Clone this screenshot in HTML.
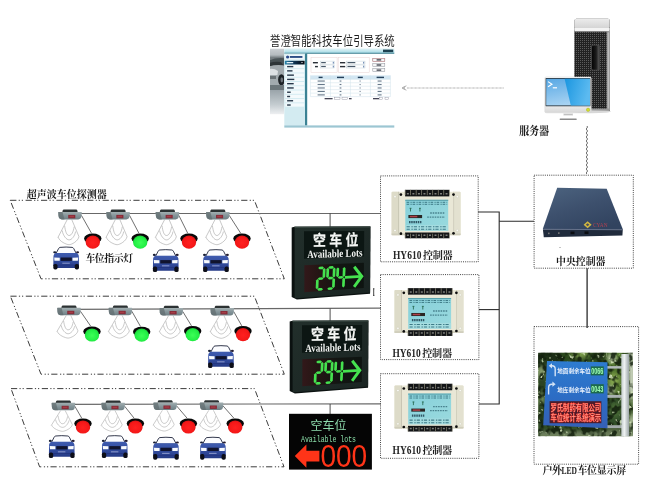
<!DOCTYPE html>
<html><head><meta charset="utf-8"><title>Parking guidance system</title>
<style>html,body{margin:0;padding:0;background:#fff;}svg{display:block;font-family:"Liberation Sans",sans-serif;}</style>
</head><body>
<svg width="650" height="482" viewBox="0 0 650 482">
<defs>

<linearGradient id="detg" x1="0" y1="0" x2="0" y2="1"><stop offset="0" stop-color="#a2afb1"/><stop offset="0.5" stop-color="#85959a"/><stop offset="1" stop-color="#6f8085"/></linearGradient>
<radialGradient id="lgr" cx="0.5" cy="0.55" r="0.6"><stop offset="0" stop-color="#ff2020"/><stop offset="0.7" stop-color="#f41818"/><stop offset="1" stop-color="#c80f12"/></radialGradient>
<radialGradient id="lgg" cx="0.5" cy="0.55" r="0.6"><stop offset="0" stop-color="#3cff58"/><stop offset="0.7" stop-color="#22ee44"/><stop offset="1" stop-color="#12b832"/></radialGradient>
<linearGradient id="carg" x1="0" y1="0" x2="0" y2="1"><stop offset="0" stop-color="#3f5cb0"/><stop offset="0.5" stop-color="#324c9e"/><stop offset="1" stop-color="#253a86"/></linearGradient>
<linearGradient id="sgnf" x1="0" y1="0" x2="1" y2="1"><stop offset="0" stop-color="#222f2b"/><stop offset="1" stop-color="#1a2422"/></linearGradient>
<linearGradient id="sgnl" x1="0" y1="0" x2="1" y2="0"><stop offset="0" stop-color="#32181a"/><stop offset="0.25" stop-color="#241614"/><stop offset="0.6" stop-color="#121512"/><stop offset="1" stop-color="#0e1411"/></linearGradient>
<filter id="glow" x="-10%" y="-10%" width="120%" height="120%"><feGaussianBlur stdDeviation="0.35"/></filter>
<filter id="blur05" x="-20%" y="-20%" width="140%" height="140%"><feGaussianBlur stdDeviation="0.45"/></filter>
<filter id="blur1" x="-20%" y="-20%" width="140%" height="140%"><feGaussianBlur stdDeviation="0.8"/></filter>
<filter id="blur2" x="-20%" y="-20%" width="140%" height="140%"><feGaussianBlur stdDeviation="2.2"/></filter>
<linearGradient id="ctlb" x1="0" y1="0" x2="1" y2="0"><stop offset="0" stop-color="#d9d6c6"/><stop offset="0.2" stop-color="#ebe8da"/><stop offset="1" stop-color="#efede2"/></linearGradient>
<linearGradient id="ctll" x1="0" y1="0" x2="1" y2="1"><stop offset="0" stop-color="#86d0da"/><stop offset="1" stop-color="#9adade"/></linearGradient>
<linearGradient id="ccg" x1="0.1" y1="0" x2="0.7" y2="1"><stop offset="0" stop-color="#4b627e"/><stop offset="0.5" stop-color="#3d506d"/><stop offset="1" stop-color="#31435f"/></linearGradient>
<linearGradient id="bsg" x1="0" y1="0" x2="0" y2="1"><stop offset="0" stop-color="#2e7cd0"/><stop offset="0.55" stop-color="#2c6cc4"/><stop offset="1" stop-color="#3560b6"/></linearGradient>
<linearGradient id="poleg" x1="0" y1="0" x2="1" y2="0"><stop offset="0" stop-color="#c4cccc"/><stop offset="0.4" stop-color="#eef2f2"/><stop offset="1" stop-color="#9aa4a6"/></linearGradient>
<filter id="foliage" x="0" y="0" width="100%" height="100%" color-interpolation-filters="sRGB"><feTurbulence type="fractalNoise" baseFrequency="0.17 0.15" numOctaves="2" seed="7"/><feColorMatrix type="matrix" values="0 0 0 0 0.07  0 0 0 0 0.12  0 0 0 0 0.05  5 0 0 0 -2.2"/></filter><filter id="foliage2" x="0" y="0" width="100%" height="100%" color-interpolation-filters="sRGB"><feTurbulence type="fractalNoise" baseFrequency="0.22 0.2" numOctaves="2" seed="23"/><feColorMatrix type="matrix" values="0 0 0 0 0.88  0 0 0 0 0.94  0 0 0 0 0.78  0 7 0 0 -4.55"/></filter>
<clipPath id="photoclip"><rect x="538.2" y="352.7" width="94.7" height="83.5"/></clipPath>
<pattern id="mesh" width="2" height="2" patternUnits="userSpaceOnUse"><rect width="2" height="2" fill="#222222"/><rect x="0" y="0" width="1" height="1" fill="#5c5c5c"/></pattern>
<linearGradient id="capg" x1="0" y1="0" x2="0" y2="1"><stop offset="0" stop-color="#ececec"/><stop offset="1" stop-color="#d4d4d4"/></linearGradient>
<linearGradient id="tedge" x1="0" y1="0" x2="1" y2="0"><stop offset="0" stop-color="#8c8c8c"/><stop offset="1" stop-color="#d8d8d8"/></linearGradient>
<linearGradient id="hndl" x1="0" y1="0" x2="1" y2="0"><stop offset="0" stop-color="#050505"/><stop offset="0.6" stop-color="#1c1c1c"/><stop offset="1" stop-color="#555"/></linearGradient>
<linearGradient id="bezg" x1="0" y1="0" x2="0" y2="1"><stop offset="0" stop-color="#fafafa"/><stop offset="0.8" stop-color="#ececec"/><stop offset="1" stop-color="#d6d6d6"/></linearGradient>
<linearGradient id="scrL" x1="0" y1="0" x2="0.3" y2="1"><stop offset="0" stop-color="#58a8e4"/><stop offset="1" stop-color="#a6d2f2"/></linearGradient>
<linearGradient id="scrR" x1="0" y1="0" x2="1" y2="0.3"><stop offset="0" stop-color="#1a96e0"/><stop offset="1" stop-color="#5cbaf0"/></linearGradient>
<linearGradient id="backg" x1="0" y1="0" x2="0" y2="1"><stop offset="0" stop-color="#ccd0d4"/><stop offset="0.1" stop-color="#b4babe"/><stop offset="0.14" stop-color="#747c80"/><stop offset="0.5" stop-color="#7a8488"/><stop offset="0.62" stop-color="#98a2a8"/><stop offset="0.85" stop-color="#c4ccd0"/><stop offset="1" stop-color="#eef0f2"/></linearGradient>
<linearGradient id="topbar" x1="0" y1="0" x2="0" y2="1"><stop offset="0" stop-color="#e4f5f8"/><stop offset="1" stop-color="#a6dae4"/></linearGradient>
<linearGradient id="selg" x1="0" y1="0" x2="1" y2="0"><stop offset="0" stop-color="#2a8ab0"/><stop offset="0.35" stop-color="#0f3e62"/><stop offset="1" stop-color="#04060c"/></linearGradient>
<clipPath id="backclip"><rect x="270" y="48.4" width="14.4" height="66"/></clipPath>

</defs>
<rect width="650" height="482" fill="#ffffff"/>
<g opacity="0.999">
<polygon points="10.20,200.30 254.40,200.30 284.30,278.80 41.00,278.80" fill="none" stroke="#3c3c3c" stroke-width="1.0" stroke-dasharray="6.2 2.3 1.2 1.9 1.2 2.6"/>
<polygon points="10.40,296.20 254.40,296.20 284.30,374.20 41.00,374.20" fill="none" stroke="#3c3c3c" stroke-width="1.0" stroke-dasharray="6.2 2.3 1.2 1.9 1.2 2.6"/>
<polygon points="11.00,388.60 254.50,388.60 284.00,466.80 39.60,466.80" fill="none" stroke="#3c3c3c" stroke-width="1.0" stroke-dasharray="6.2 2.3 1.2 1.9 1.2 2.6"/>
<line x1="70.00" y1="213.50" x2="381.00" y2="213.50" stroke="#686868" stroke-width="1.2"/>
<line x1="69.00" y1="309.30" x2="381.00" y2="308.10" stroke="#686868" stroke-width="1.2"/>
<line x1="63.00" y1="404.40" x2="381.00" y2="403.80" stroke="#686868" stroke-width="1.2"/>
<g fill="none" stroke="#a2a2a2" stroke-width="0.6" transform="translate(0 0.000) scale(1 1.000)">
<path d="M67.20 219.70 L57.80 237.70 M71.80 219.70 L79.00 236.70"/>
<path d="M64.60 225.70 C65.40 231.09 66.50 235.50 69.10 235.50 C71.70 235.50 73.40 231.54 74.20 226.70"/>
<path d="M62.20 230.50 C63.00 235.67 66.50 239.90 69.10 239.90 C71.70 239.90 74.80 236.12 75.60 231.50"/>
<path d="M58.40 237.30 C59.20 241.37 66.50 244.70 69.10 244.70 C71.70 244.70 78.10 241.10 78.90 236.70"/>
</g>
<line x1="81.40" y1="215.30" x2="91.60" y2="233.40" stroke="#4a4a4a" stroke-width="0.8"/>
<g transform="translate(58.20 209.60) scale(0.9833 0.9800)">
<path d="M5.4 0 H18.6 Q19.6 0 19.8 2.6 H4.2 Q4.4 0 5.4 0Z" fill="#2c3233"/>
<path d="M0.5 2.4 H23.5 Q24 2.4 24 3 L23.7 6.6 Q23.2 10 20.4 10 H3.6 Q0.8 10 0.3 6.6 L0 3 Q0 2.4 0.5 2.4Z" fill="url(#detg)"/>
<path d="M0.5 2.4 H4.4 L6.4 10 H3.6 Q0.8 10 0.3 6.6 L0 3 Q0 2.4 0.5 2.4Z" fill="#5f6b6e" opacity="0.7"/>
<rect x="10.2" y="5.4" width="7.2" height="3.5" fill="#862c38"/>
<rect x="11.4" y="6.3" width="4.6" height="1.5" fill="#a63c46"/>
</g>
<ellipse cx="92.80" cy="238.60" rx="8.7" ry="5.0" fill="#080808"/>
<ellipse cx="92.80" cy="242.10" rx="7.2" ry="6.6" fill="url(#lgr)"/>
<g fill="none" stroke="#a2a2a2" stroke-width="0.6" transform="translate(0 0.000) scale(1 1.000)">
<path d="M115.30 219.70 L105.90 237.70 M119.90 219.70 L127.10 236.70"/>
<path d="M112.70 225.70 C113.50 231.09 114.60 235.50 117.20 235.50 C119.80 235.50 121.50 231.54 122.30 226.70"/>
<path d="M110.30 230.50 C111.10 235.67 114.60 239.90 117.20 239.90 C119.80 239.90 122.90 236.12 123.70 231.50"/>
<path d="M106.50 237.30 C107.30 241.37 114.60 244.70 117.20 244.70 C119.80 244.70 126.20 241.10 127.00 236.70"/>
</g>
<line x1="129.50" y1="215.30" x2="139.00" y2="233.40" stroke="#4a4a4a" stroke-width="0.8"/>
<g transform="translate(106.30 209.60) scale(0.9833 0.9800)">
<path d="M5.4 0 H18.6 Q19.6 0 19.8 2.6 H4.2 Q4.4 0 5.4 0Z" fill="#2c3233"/>
<path d="M0.5 2.4 H23.5 Q24 2.4 24 3 L23.7 6.6 Q23.2 10 20.4 10 H3.6 Q0.8 10 0.3 6.6 L0 3 Q0 2.4 0.5 2.4Z" fill="url(#detg)"/>
<path d="M0.5 2.4 H4.4 L6.4 10 H3.6 Q0.8 10 0.3 6.6 L0 3 Q0 2.4 0.5 2.4Z" fill="#5f6b6e" opacity="0.7"/>
<rect x="10.2" y="5.4" width="7.2" height="3.5" fill="#862c38"/>
<rect x="11.4" y="6.3" width="4.6" height="1.5" fill="#a63c46"/>
</g>
<ellipse cx="140.20" cy="238.60" rx="8.7" ry="5.0" fill="#080808"/>
<ellipse cx="140.20" cy="242.10" rx="7.2" ry="6.6" fill="url(#lgg)"/>
<g fill="none" stroke="#a2a2a2" stroke-width="0.6" transform="translate(0 0.000) scale(1 1.000)">
<path d="M164.60 219.70 L155.20 237.70 M169.20 219.70 L176.40 236.70"/>
<path d="M162.00 225.70 C162.80 231.09 163.90 235.50 166.50 235.50 C169.10 235.50 170.80 231.54 171.60 226.70"/>
<path d="M159.60 230.50 C160.40 235.67 163.90 239.90 166.50 239.90 C169.10 239.90 172.20 236.12 173.00 231.50"/>
<path d="M155.80 237.30 C156.60 241.37 163.90 244.70 166.50 244.70 C169.10 244.70 175.50 241.10 176.30 236.70"/>
</g>
<line x1="178.80" y1="215.30" x2="187.80" y2="233.40" stroke="#4a4a4a" stroke-width="0.8"/>
<g transform="translate(155.60 209.60) scale(0.9833 0.9800)">
<path d="M5.4 0 H18.6 Q19.6 0 19.8 2.6 H4.2 Q4.4 0 5.4 0Z" fill="#2c3233"/>
<path d="M0.5 2.4 H23.5 Q24 2.4 24 3 L23.7 6.6 Q23.2 10 20.4 10 H3.6 Q0.8 10 0.3 6.6 L0 3 Q0 2.4 0.5 2.4Z" fill="url(#detg)"/>
<path d="M0.5 2.4 H4.4 L6.4 10 H3.6 Q0.8 10 0.3 6.6 L0 3 Q0 2.4 0.5 2.4Z" fill="#5f6b6e" opacity="0.7"/>
<rect x="10.2" y="5.4" width="7.2" height="3.5" fill="#862c38"/>
<rect x="11.4" y="6.3" width="4.6" height="1.5" fill="#a63c46"/>
</g>
<ellipse cx="189.00" cy="238.60" rx="8.7" ry="5.0" fill="#080808"/>
<ellipse cx="189.00" cy="242.10" rx="7.2" ry="6.6" fill="url(#lgr)"/>
<g fill="none" stroke="#a2a2a2" stroke-width="0.6" transform="translate(0 0.000) scale(1 1.000)">
<path d="M215.00 219.70 L205.60 237.70 M219.60 219.70 L226.80 236.70"/>
<path d="M212.40 225.70 C213.20 231.09 214.30 235.50 216.90 235.50 C219.50 235.50 221.20 231.54 222.00 226.70"/>
<path d="M210.00 230.50 C210.80 235.67 214.30 239.90 216.90 239.90 C219.50 239.90 222.60 236.12 223.40 231.50"/>
<path d="M206.20 237.30 C207.00 241.37 214.30 244.70 216.90 244.70 C219.50 244.70 225.90 241.10 226.70 236.70"/>
</g>
<line x1="229.20" y1="215.30" x2="240.80" y2="233.40" stroke="#4a4a4a" stroke-width="0.8"/>
<g transform="translate(206.00 209.60) scale(0.9833 0.9800)">
<path d="M5.4 0 H18.6 Q19.6 0 19.8 2.6 H4.2 Q4.4 0 5.4 0Z" fill="#2c3233"/>
<path d="M0.5 2.4 H23.5 Q24 2.4 24 3 L23.7 6.6 Q23.2 10 20.4 10 H3.6 Q0.8 10 0.3 6.6 L0 3 Q0 2.4 0.5 2.4Z" fill="url(#detg)"/>
<path d="M0.5 2.4 H4.4 L6.4 10 H3.6 Q0.8 10 0.3 6.6 L0 3 Q0 2.4 0.5 2.4Z" fill="#5f6b6e" opacity="0.7"/>
<rect x="10.2" y="5.4" width="7.2" height="3.5" fill="#862c38"/>
<rect x="11.4" y="6.3" width="4.6" height="1.5" fill="#a63c46"/>
</g>
<ellipse cx="242.00" cy="238.60" rx="8.7" ry="5.0" fill="#080808"/>
<ellipse cx="242.00" cy="242.10" rx="7.2" ry="6.6" fill="url(#lgr)"/>
<g fill="none" stroke="#a2a2a2" stroke-width="0.6" transform="translate(0 31.560) scale(1 0.900)">
<path d="M66.20 315.60 L56.80 333.60 M70.80 315.60 L78.00 332.60"/>
<path d="M63.60 321.60 C64.40 326.99 65.50 331.40 68.10 331.40 C70.70 331.40 72.40 327.44 73.20 322.60"/>
<path d="M61.20 326.40 C62.00 331.57 65.50 335.80 68.10 335.80 C70.70 335.80 73.80 332.02 74.60 327.40"/>
<path d="M57.40 333.20 C58.20 337.27 65.50 340.60 68.10 340.60 C70.70 340.60 77.10 337.00 77.90 332.60"/>
</g>
<line x1="80.40" y1="311.20" x2="90.80" y2="326.30" stroke="#4a4a4a" stroke-width="0.8"/>
<g transform="translate(57.20 305.50) scale(0.9833 0.9800)">
<path d="M5.4 0 H18.6 Q19.6 0 19.8 2.6 H4.2 Q4.4 0 5.4 0Z" fill="#2c3233"/>
<path d="M0.5 2.4 H23.5 Q24 2.4 24 3 L23.7 6.6 Q23.2 10 20.4 10 H3.6 Q0.8 10 0.3 6.6 L0 3 Q0 2.4 0.5 2.4Z" fill="url(#detg)"/>
<path d="M0.5 2.4 H4.4 L6.4 10 H3.6 Q0.8 10 0.3 6.6 L0 3 Q0 2.4 0.5 2.4Z" fill="#5f6b6e" opacity="0.7"/>
<rect x="10.2" y="5.4" width="7.2" height="3.5" fill="#862c38"/>
<rect x="11.4" y="6.3" width="4.6" height="1.5" fill="#a63c46"/>
</g>
<ellipse cx="92.00" cy="331.50" rx="8.7" ry="5.0" fill="#080808"/>
<ellipse cx="92.00" cy="335.00" rx="7.2" ry="6.6" fill="url(#lgg)"/>
<g fill="none" stroke="#a2a2a2" stroke-width="0.6" transform="translate(0 31.560) scale(1 0.900)">
<path d="M117.60 315.60 L108.20 333.60 M122.20 315.60 L129.40 332.60"/>
<path d="M115.00 321.60 C115.80 326.99 116.90 331.40 119.50 331.40 C122.10 331.40 123.80 327.44 124.60 322.60"/>
<path d="M112.60 326.40 C113.40 331.57 116.90 335.80 119.50 335.80 C122.10 335.80 125.20 332.02 126.00 327.40"/>
<path d="M108.80 333.20 C109.60 337.27 116.90 340.60 119.50 340.60 C122.10 340.60 128.50 337.00 129.30 332.60"/>
</g>
<line x1="131.80" y1="311.20" x2="140.50" y2="326.50" stroke="#4a4a4a" stroke-width="0.8"/>
<g transform="translate(108.60 305.50) scale(0.9833 0.9800)">
<path d="M5.4 0 H18.6 Q19.6 0 19.8 2.6 H4.2 Q4.4 0 5.4 0Z" fill="#2c3233"/>
<path d="M0.5 2.4 H23.5 Q24 2.4 24 3 L23.7 6.6 Q23.2 10 20.4 10 H3.6 Q0.8 10 0.3 6.6 L0 3 Q0 2.4 0.5 2.4Z" fill="url(#detg)"/>
<path d="M0.5 2.4 H4.4 L6.4 10 H3.6 Q0.8 10 0.3 6.6 L0 3 Q0 2.4 0.5 2.4Z" fill="#5f6b6e" opacity="0.7"/>
<rect x="10.2" y="5.4" width="7.2" height="3.5" fill="#862c38"/>
<rect x="11.4" y="6.3" width="4.6" height="1.5" fill="#a63c46"/>
</g>
<ellipse cx="141.70" cy="331.70" rx="8.7" ry="5.0" fill="#080808"/>
<ellipse cx="141.70" cy="335.20" rx="7.2" ry="6.6" fill="url(#lgg)"/>
<g fill="none" stroke="#a2a2a2" stroke-width="0.6" transform="translate(0 31.580) scale(1 0.900)">
<path d="M168.50 315.80 L159.10 333.80 M173.10 315.80 L180.30 332.80"/>
<path d="M165.90 321.80 C166.70 327.19 167.80 331.60 170.40 331.60 C173.00 331.60 174.70 327.64 175.50 322.80"/>
<path d="M163.50 326.60 C164.30 331.77 167.80 336.00 170.40 336.00 C173.00 336.00 176.10 332.22 176.90 327.60"/>
<path d="M159.70 333.40 C160.50 337.47 167.80 340.80 170.40 340.80 C173.00 340.80 179.40 337.20 180.20 332.80"/>
</g>
<line x1="182.70" y1="311.40" x2="191.50" y2="325.90" stroke="#4a4a4a" stroke-width="0.8"/>
<g transform="translate(159.50 305.70) scale(0.9833 0.9800)">
<path d="M5.4 0 H18.6 Q19.6 0 19.8 2.6 H4.2 Q4.4 0 5.4 0Z" fill="#2c3233"/>
<path d="M0.5 2.4 H23.5 Q24 2.4 24 3 L23.7 6.6 Q23.2 10 20.4 10 H3.6 Q0.8 10 0.3 6.6 L0 3 Q0 2.4 0.5 2.4Z" fill="url(#detg)"/>
<path d="M0.5 2.4 H4.4 L6.4 10 H3.6 Q0.8 10 0.3 6.6 L0 3 Q0 2.4 0.5 2.4Z" fill="#5f6b6e" opacity="0.7"/>
<rect x="10.2" y="5.4" width="7.2" height="3.5" fill="#862c38"/>
<rect x="11.4" y="6.3" width="4.6" height="1.5" fill="#a63c46"/>
</g>
<ellipse cx="192.70" cy="331.10" rx="8.7" ry="5.0" fill="#080808"/>
<ellipse cx="192.70" cy="334.60" rx="7.2" ry="6.6" fill="url(#lgg)"/>
<g fill="none" stroke="#a2a2a2" stroke-width="0.6" transform="translate(0 31.580) scale(1 0.900)">
<path d="M219.40 315.80 L210.00 333.80 M224.00 315.80 L231.20 332.80"/>
<path d="M216.80 321.80 C217.60 327.19 218.70 331.60 221.30 331.60 C223.90 331.60 225.60 327.64 226.40 322.80"/>
<path d="M214.40 326.60 C215.20 331.77 218.70 336.00 221.30 336.00 C223.90 336.00 227.00 332.22 227.80 327.60"/>
<path d="M210.60 333.40 C211.40 337.47 218.70 340.80 221.30 340.80 C223.90 340.80 230.30 337.20 231.10 332.80"/>
</g>
<line x1="233.60" y1="311.40" x2="241.80" y2="325.90" stroke="#4a4a4a" stroke-width="0.8"/>
<g transform="translate(210.40 305.70) scale(0.9833 0.9800)">
<path d="M5.4 0 H18.6 Q19.6 0 19.8 2.6 H4.2 Q4.4 0 5.4 0Z" fill="#2c3233"/>
<path d="M0.5 2.4 H23.5 Q24 2.4 24 3 L23.7 6.6 Q23.2 10 20.4 10 H3.6 Q0.8 10 0.3 6.6 L0 3 Q0 2.4 0.5 2.4Z" fill="url(#detg)"/>
<path d="M0.5 2.4 H4.4 L6.4 10 H3.6 Q0.8 10 0.3 6.6 L0 3 Q0 2.4 0.5 2.4Z" fill="#5f6b6e" opacity="0.7"/>
<rect x="10.2" y="5.4" width="7.2" height="3.5" fill="#862c38"/>
<rect x="11.4" y="6.3" width="4.6" height="1.5" fill="#a63c46"/>
</g>
<ellipse cx="243.00" cy="331.10" rx="8.7" ry="5.0" fill="#080808"/>
<ellipse cx="243.00" cy="334.60" rx="7.2" ry="6.6" fill="url(#lgr)"/>
<g fill="none" stroke="#a2a2a2" stroke-width="0.6" transform="translate(0 69.802) scale(1 0.830)">
<path d="M60.60 410.60 L51.20 428.60 M65.20 410.60 L72.40 427.60"/>
<path d="M58.00 416.60 C58.80 421.99 59.90 426.40 62.50 426.40 C65.10 426.40 66.80 422.44 67.60 417.60"/>
<path d="M55.60 421.40 C56.40 426.57 59.90 430.80 62.50 430.80 C65.10 430.80 68.20 427.02 69.00 422.40"/>
<path d="M51.80 428.20 C52.60 432.27 59.90 435.60 62.50 435.60 C65.10 435.60 71.50 432.00 72.30 427.60"/>
</g>
<line x1="74.80" y1="406.20" x2="81.80" y2="418.30" stroke="#4a4a4a" stroke-width="0.8"/>
<g transform="translate(51.60 400.50) scale(0.9833 0.9800)">
<path d="M5.4 0 H18.6 Q19.6 0 19.8 2.6 H4.2 Q4.4 0 5.4 0Z" fill="#2c3233"/>
<path d="M0.5 2.4 H23.5 Q24 2.4 24 3 L23.7 6.6 Q23.2 10 20.4 10 H3.6 Q0.8 10 0.3 6.6 L0 3 Q0 2.4 0.5 2.4Z" fill="url(#detg)"/>
<path d="M0.5 2.4 H4.4 L6.4 10 H3.6 Q0.8 10 0.3 6.6 L0 3 Q0 2.4 0.5 2.4Z" fill="#5f6b6e" opacity="0.7"/>
<rect x="10.2" y="5.4" width="7.2" height="3.5" fill="#862c38"/>
<rect x="11.4" y="6.3" width="4.6" height="1.5" fill="#a63c46"/>
</g>
<ellipse cx="83.00" cy="423.50" rx="8.7" ry="5.0" fill="#080808"/>
<ellipse cx="83.00" cy="427.00" rx="7.2" ry="6.6" fill="url(#lgr)"/>
<g fill="none" stroke="#a2a2a2" stroke-width="0.6" transform="translate(0 69.802) scale(1 0.830)">
<path d="M110.40 410.60 L101.00 428.60 M115.00 410.60 L122.20 427.60"/>
<path d="M107.80 416.60 C108.60 421.99 109.70 426.40 112.30 426.40 C114.90 426.40 116.60 422.44 117.40 417.60"/>
<path d="M105.40 421.40 C106.20 426.57 109.70 430.80 112.30 430.80 C114.90 430.80 118.00 427.02 118.80 422.40"/>
<path d="M101.60 428.20 C102.40 432.27 109.70 435.60 112.30 435.60 C114.90 435.60 121.30 432.00 122.10 427.60"/>
</g>
<line x1="124.60" y1="406.20" x2="134.20" y2="418.30" stroke="#4a4a4a" stroke-width="0.8"/>
<g transform="translate(101.40 400.50) scale(0.9833 0.9800)">
<path d="M5.4 0 H18.6 Q19.6 0 19.8 2.6 H4.2 Q4.4 0 5.4 0Z" fill="#2c3233"/>
<path d="M0.5 2.4 H23.5 Q24 2.4 24 3 L23.7 6.6 Q23.2 10 20.4 10 H3.6 Q0.8 10 0.3 6.6 L0 3 Q0 2.4 0.5 2.4Z" fill="url(#detg)"/>
<path d="M0.5 2.4 H4.4 L6.4 10 H3.6 Q0.8 10 0.3 6.6 L0 3 Q0 2.4 0.5 2.4Z" fill="#5f6b6e" opacity="0.7"/>
<rect x="10.2" y="5.4" width="7.2" height="3.5" fill="#862c38"/>
<rect x="11.4" y="6.3" width="4.6" height="1.5" fill="#a63c46"/>
</g>
<ellipse cx="135.40" cy="423.50" rx="8.7" ry="5.0" fill="#080808"/>
<ellipse cx="135.40" cy="427.00" rx="7.2" ry="6.6" fill="url(#lgr)"/>
<g fill="none" stroke="#a2a2a2" stroke-width="0.6" transform="translate(0 69.751) scale(1 0.830)">
<path d="M162.40 410.30 L153.00 428.30 M167.00 410.30 L174.20 427.30"/>
<path d="M159.80 416.30 C160.60 421.69 161.70 426.10 164.30 426.10 C166.90 426.10 168.60 422.14 169.40 417.30"/>
<path d="M157.40 421.10 C158.20 426.27 161.70 430.50 164.30 430.50 C166.90 430.50 170.00 426.72 170.80 422.10"/>
<path d="M153.60 427.90 C154.40 431.97 161.70 435.30 164.30 435.30 C166.90 435.30 173.30 431.70 174.10 427.30"/>
</g>
<line x1="176.60" y1="405.90" x2="187.20" y2="418.30" stroke="#4a4a4a" stroke-width="0.8"/>
<g transform="translate(153.40 400.20) scale(0.9833 0.9800)">
<path d="M5.4 0 H18.6 Q19.6 0 19.8 2.6 H4.2 Q4.4 0 5.4 0Z" fill="#2c3233"/>
<path d="M0.5 2.4 H23.5 Q24 2.4 24 3 L23.7 6.6 Q23.2 10 20.4 10 H3.6 Q0.8 10 0.3 6.6 L0 3 Q0 2.4 0.5 2.4Z" fill="url(#detg)"/>
<path d="M0.5 2.4 H4.4 L6.4 10 H3.6 Q0.8 10 0.3 6.6 L0 3 Q0 2.4 0.5 2.4Z" fill="#5f6b6e" opacity="0.7"/>
<rect x="10.2" y="5.4" width="7.2" height="3.5" fill="#862c38"/>
<rect x="11.4" y="6.3" width="4.6" height="1.5" fill="#a63c46"/>
</g>
<ellipse cx="188.40" cy="423.50" rx="8.7" ry="5.0" fill="#080808"/>
<ellipse cx="188.40" cy="427.00" rx="7.2" ry="6.6" fill="url(#lgr)"/>
<g fill="none" stroke="#a2a2a2" stroke-width="0.6" transform="translate(0 69.751) scale(1 0.830)">
<path d="M208.80 410.30 L199.40 428.30 M213.40 410.30 L220.60 427.30"/>
<path d="M206.20 416.30 C207.00 421.69 208.10 426.10 210.70 426.10 C213.30 426.10 215.00 422.14 215.80 417.30"/>
<path d="M203.80 421.10 C204.60 426.27 208.10 430.50 210.70 430.50 C213.30 430.50 216.40 426.72 217.20 422.10"/>
<path d="M200.00 427.90 C200.80 431.97 208.10 435.30 210.70 435.30 C213.30 435.30 219.70 431.70 220.50 427.30"/>
</g>
<line x1="223.00" y1="405.90" x2="234.00" y2="418.30" stroke="#4a4a4a" stroke-width="0.8"/>
<g transform="translate(199.80 400.20) scale(0.9833 0.9800)">
<path d="M5.4 0 H18.6 Q19.6 0 19.8 2.6 H4.2 Q4.4 0 5.4 0Z" fill="#2c3233"/>
<path d="M0.5 2.4 H23.5 Q24 2.4 24 3 L23.7 6.6 Q23.2 10 20.4 10 H3.6 Q0.8 10 0.3 6.6 L0 3 Q0 2.4 0.5 2.4Z" fill="url(#detg)"/>
<path d="M0.5 2.4 H4.4 L6.4 10 H3.6 Q0.8 10 0.3 6.6 L0 3 Q0 2.4 0.5 2.4Z" fill="#5f6b6e" opacity="0.7"/>
<rect x="10.2" y="5.4" width="7.2" height="3.5" fill="#862c38"/>
<rect x="11.4" y="6.3" width="4.6" height="1.5" fill="#a63c46"/>
</g>
<ellipse cx="235.20" cy="423.50" rx="8.7" ry="5.0" fill="#080808"/>
<ellipse cx="235.20" cy="427.00" rx="7.2" ry="6.6" fill="url(#lgr)"/>
<g transform="translate(53.00 246.80) scale(1.0115 0.9828)">
<path d="M7.0 0.6 Q13 -0.1 19.0 0.6 Q20.0 0.8 20.5 1.8 L23.2 7.2 H2.8 L5.5 1.8 Q6.0 0.8 7.0 0.6Z" fill="#fbfcff" stroke="#1c2238" stroke-width="0.9"/>
<ellipse cx="1.7" cy="5.6" rx="1.5" ry="1.1" fill="#181e34"/>
<ellipse cx="24.3" cy="5.6" rx="1.5" ry="1.1" fill="#241c30"/>
<path d="M2.8 6.4 H23.2 Q25.2 6.9 25.5 9.2 L25.7 18.4 Q25.6 19.6 24.2 19.8 L22.8 21.6 H3.2 L1.8 19.8 Q0.4 19.6 0.3 18.4 L0.5 9.2 Q0.8 6.9 2.8 6.4Z" fill="url(#carg)"/>
<path d="M1.2 10.9 L6.7 11.1 V14.2 H1.4Z" fill="#f8fafd"/>
<path d="M24.8 10.9 L19.3 11.1 V14.2 H24.6Z" fill="#f8fafd"/>
<rect x="7.6" y="10.9" width="11.0" height="3.4" fill="#11142e"/>
<rect x="0.3" y="17.4" width="4.2" height="5.7" rx="1.7" fill="#0d0e18"/>
<rect x="21.5" y="17.4" width="4.2" height="5.7" rx="1.7" fill="#0d0e18"/>
<rect x="9.2" y="16.1" width="7.4" height="1.2" fill="#8e9acc" opacity="0.85"/>
<rect x="4.4" y="18.2" width="17.2" height="0.7" fill="#1e2a70" opacity="0.7"/>
</g>
<g transform="translate(152.60 249.40) scale(1.0115 0.9828)">
<path d="M7.0 0.6 Q13 -0.1 19.0 0.6 Q20.0 0.8 20.5 1.8 L23.2 7.2 H2.8 L5.5 1.8 Q6.0 0.8 7.0 0.6Z" fill="#fbfcff" stroke="#1c2238" stroke-width="0.9"/>
<ellipse cx="1.7" cy="5.6" rx="1.5" ry="1.1" fill="#181e34"/>
<ellipse cx="24.3" cy="5.6" rx="1.5" ry="1.1" fill="#241c30"/>
<path d="M2.8 6.4 H23.2 Q25.2 6.9 25.5 9.2 L25.7 18.4 Q25.6 19.6 24.2 19.8 L22.8 21.6 H3.2 L1.8 19.8 Q0.4 19.6 0.3 18.4 L0.5 9.2 Q0.8 6.9 2.8 6.4Z" fill="url(#carg)"/>
<path d="M1.2 10.9 L6.7 11.1 V14.2 H1.4Z" fill="#f8fafd"/>
<path d="M24.8 10.9 L19.3 11.1 V14.2 H24.6Z" fill="#f8fafd"/>
<rect x="7.6" y="10.9" width="11.0" height="3.4" fill="#11142e"/>
<rect x="0.3" y="17.4" width="4.2" height="5.7" rx="1.7" fill="#0d0e18"/>
<rect x="21.5" y="17.4" width="4.2" height="5.7" rx="1.7" fill="#0d0e18"/>
<rect x="9.2" y="16.1" width="7.4" height="1.2" fill="#8e9acc" opacity="0.85"/>
<rect x="4.4" y="18.2" width="17.2" height="0.7" fill="#1e2a70" opacity="0.7"/>
</g>
<g transform="translate(202.80 249.40) scale(1.0115 0.9828)">
<path d="M7.0 0.6 Q13 -0.1 19.0 0.6 Q20.0 0.8 20.5 1.8 L23.2 7.2 H2.8 L5.5 1.8 Q6.0 0.8 7.0 0.6Z" fill="#fbfcff" stroke="#1c2238" stroke-width="0.9"/>
<ellipse cx="1.7" cy="5.6" rx="1.5" ry="1.1" fill="#181e34"/>
<ellipse cx="24.3" cy="5.6" rx="1.5" ry="1.1" fill="#241c30"/>
<path d="M2.8 6.4 H23.2 Q25.2 6.9 25.5 9.2 L25.7 18.4 Q25.6 19.6 24.2 19.8 L22.8 21.6 H3.2 L1.8 19.8 Q0.4 19.6 0.3 18.4 L0.5 9.2 Q0.8 6.9 2.8 6.4Z" fill="url(#carg)"/>
<path d="M1.2 10.9 L6.7 11.1 V14.2 H1.4Z" fill="#f8fafd"/>
<path d="M24.8 10.9 L19.3 11.1 V14.2 H24.6Z" fill="#f8fafd"/>
<rect x="7.6" y="10.9" width="11.0" height="3.4" fill="#11142e"/>
<rect x="0.3" y="17.4" width="4.2" height="5.7" rx="1.7" fill="#0d0e18"/>
<rect x="21.5" y="17.4" width="4.2" height="5.7" rx="1.7" fill="#0d0e18"/>
<rect x="9.2" y="16.1" width="7.4" height="1.2" fill="#8e9acc" opacity="0.85"/>
<rect x="4.4" y="18.2" width="17.2" height="0.7" fill="#1e2a70" opacity="0.7"/>
</g>
<g transform="translate(207.80 345.40) scale(1.0115 0.9828)">
<path d="M7.0 0.6 Q13 -0.1 19.0 0.6 Q20.0 0.8 20.5 1.8 L23.2 7.2 H2.8 L5.5 1.8 Q6.0 0.8 7.0 0.6Z" fill="#fbfcff" stroke="#1c2238" stroke-width="0.9"/>
<ellipse cx="1.7" cy="5.6" rx="1.5" ry="1.1" fill="#181e34"/>
<ellipse cx="24.3" cy="5.6" rx="1.5" ry="1.1" fill="#241c30"/>
<path d="M2.8 6.4 H23.2 Q25.2 6.9 25.5 9.2 L25.7 18.4 Q25.6 19.6 24.2 19.8 L22.8 21.6 H3.2 L1.8 19.8 Q0.4 19.6 0.3 18.4 L0.5 9.2 Q0.8 6.9 2.8 6.4Z" fill="url(#carg)"/>
<path d="M1.2 10.9 L6.7 11.1 V14.2 H1.4Z" fill="#f8fafd"/>
<path d="M24.8 10.9 L19.3 11.1 V14.2 H24.6Z" fill="#f8fafd"/>
<rect x="7.6" y="10.9" width="11.0" height="3.4" fill="#11142e"/>
<rect x="0.3" y="17.4" width="4.2" height="5.7" rx="1.7" fill="#0d0e18"/>
<rect x="21.5" y="17.4" width="4.2" height="5.7" rx="1.7" fill="#0d0e18"/>
<rect x="9.2" y="16.1" width="7.4" height="1.2" fill="#8e9acc" opacity="0.85"/>
<rect x="4.4" y="18.2" width="17.2" height="0.7" fill="#1e2a70" opacity="0.7"/>
</g>
<g transform="translate(48.60 435.40) scale(1.0115 0.9828)">
<path d="M7.0 0.6 Q13 -0.1 19.0 0.6 Q20.0 0.8 20.5 1.8 L23.2 7.2 H2.8 L5.5 1.8 Q6.0 0.8 7.0 0.6Z" fill="#fbfcff" stroke="#1c2238" stroke-width="0.9"/>
<ellipse cx="1.7" cy="5.6" rx="1.5" ry="1.1" fill="#181e34"/>
<ellipse cx="24.3" cy="5.6" rx="1.5" ry="1.1" fill="#241c30"/>
<path d="M2.8 6.4 H23.2 Q25.2 6.9 25.5 9.2 L25.7 18.4 Q25.6 19.6 24.2 19.8 L22.8 21.6 H3.2 L1.8 19.8 Q0.4 19.6 0.3 18.4 L0.5 9.2 Q0.8 6.9 2.8 6.4Z" fill="url(#carg)"/>
<path d="M1.2 10.9 L6.7 11.1 V14.2 H1.4Z" fill="#f8fafd"/>
<path d="M24.8 10.9 L19.3 11.1 V14.2 H24.6Z" fill="#f8fafd"/>
<rect x="7.6" y="10.9" width="11.0" height="3.4" fill="#11142e"/>
<rect x="0.3" y="17.4" width="4.2" height="5.7" rx="1.7" fill="#0d0e18"/>
<rect x="21.5" y="17.4" width="4.2" height="5.7" rx="1.7" fill="#0d0e18"/>
<rect x="9.2" y="16.1" width="7.4" height="1.2" fill="#8e9acc" opacity="0.85"/>
<rect x="4.4" y="18.2" width="17.2" height="0.7" fill="#1e2a70" opacity="0.7"/>
</g>
<g transform="translate(101.60 435.40) scale(1.0115 0.9828)">
<path d="M7.0 0.6 Q13 -0.1 19.0 0.6 Q20.0 0.8 20.5 1.8 L23.2 7.2 H2.8 L5.5 1.8 Q6.0 0.8 7.0 0.6Z" fill="#fbfcff" stroke="#1c2238" stroke-width="0.9"/>
<ellipse cx="1.7" cy="5.6" rx="1.5" ry="1.1" fill="#181e34"/>
<ellipse cx="24.3" cy="5.6" rx="1.5" ry="1.1" fill="#241c30"/>
<path d="M2.8 6.4 H23.2 Q25.2 6.9 25.5 9.2 L25.7 18.4 Q25.6 19.6 24.2 19.8 L22.8 21.6 H3.2 L1.8 19.8 Q0.4 19.6 0.3 18.4 L0.5 9.2 Q0.8 6.9 2.8 6.4Z" fill="url(#carg)"/>
<path d="M1.2 10.9 L6.7 11.1 V14.2 H1.4Z" fill="#f8fafd"/>
<path d="M24.8 10.9 L19.3 11.1 V14.2 H24.6Z" fill="#f8fafd"/>
<rect x="7.6" y="10.9" width="11.0" height="3.4" fill="#11142e"/>
<rect x="0.3" y="17.4" width="4.2" height="5.7" rx="1.7" fill="#0d0e18"/>
<rect x="21.5" y="17.4" width="4.2" height="5.7" rx="1.7" fill="#0d0e18"/>
<rect x="9.2" y="16.1" width="7.4" height="1.2" fill="#8e9acc" opacity="0.85"/>
<rect x="4.4" y="18.2" width="17.2" height="0.7" fill="#1e2a70" opacity="0.7"/>
</g>
<g transform="translate(152.80 437.00) scale(1.0115 0.9828)">
<path d="M7.0 0.6 Q13 -0.1 19.0 0.6 Q20.0 0.8 20.5 1.8 L23.2 7.2 H2.8 L5.5 1.8 Q6.0 0.8 7.0 0.6Z" fill="#fbfcff" stroke="#1c2238" stroke-width="0.9"/>
<ellipse cx="1.7" cy="5.6" rx="1.5" ry="1.1" fill="#181e34"/>
<ellipse cx="24.3" cy="5.6" rx="1.5" ry="1.1" fill="#241c30"/>
<path d="M2.8 6.4 H23.2 Q25.2 6.9 25.5 9.2 L25.7 18.4 Q25.6 19.6 24.2 19.8 L22.8 21.6 H3.2 L1.8 19.8 Q0.4 19.6 0.3 18.4 L0.5 9.2 Q0.8 6.9 2.8 6.4Z" fill="url(#carg)"/>
<path d="M1.2 10.9 L6.7 11.1 V14.2 H1.4Z" fill="#f8fafd"/>
<path d="M24.8 10.9 L19.3 11.1 V14.2 H24.6Z" fill="#f8fafd"/>
<rect x="7.6" y="10.9" width="11.0" height="3.4" fill="#11142e"/>
<rect x="0.3" y="17.4" width="4.2" height="5.7" rx="1.7" fill="#0d0e18"/>
<rect x="21.5" y="17.4" width="4.2" height="5.7" rx="1.7" fill="#0d0e18"/>
<rect x="9.2" y="16.1" width="7.4" height="1.2" fill="#8e9acc" opacity="0.85"/>
<rect x="4.4" y="18.2" width="17.2" height="0.7" fill="#1e2a70" opacity="0.7"/>
</g>
<g transform="translate(199.80 437.00) scale(1.0115 0.9828)">
<path d="M7.0 0.6 Q13 -0.1 19.0 0.6 Q20.0 0.8 20.5 1.8 L23.2 7.2 H2.8 L5.5 1.8 Q6.0 0.8 7.0 0.6Z" fill="#fbfcff" stroke="#1c2238" stroke-width="0.9"/>
<ellipse cx="1.7" cy="5.6" rx="1.5" ry="1.1" fill="#181e34"/>
<ellipse cx="24.3" cy="5.6" rx="1.5" ry="1.1" fill="#241c30"/>
<path d="M2.8 6.4 H23.2 Q25.2 6.9 25.5 9.2 L25.7 18.4 Q25.6 19.6 24.2 19.8 L22.8 21.6 H3.2 L1.8 19.8 Q0.4 19.6 0.3 18.4 L0.5 9.2 Q0.8 6.9 2.8 6.4Z" fill="url(#carg)"/>
<path d="M1.2 10.9 L6.7 11.1 V14.2 H1.4Z" fill="#f8fafd"/>
<path d="M24.8 10.9 L19.3 11.1 V14.2 H24.6Z" fill="#f8fafd"/>
<rect x="7.6" y="10.9" width="11.0" height="3.4" fill="#11142e"/>
<rect x="0.3" y="17.4" width="4.2" height="5.7" rx="1.7" fill="#0d0e18"/>
<rect x="21.5" y="17.4" width="4.2" height="5.7" rx="1.7" fill="#0d0e18"/>
<rect x="9.2" y="16.1" width="7.4" height="1.2" fill="#8e9acc" opacity="0.85"/>
<rect x="4.4" y="18.2" width="17.2" height="0.7" fill="#1e2a70" opacity="0.7"/>
</g>
<text x="26.7" y="198.4" font-size="10" font-weight="bold" fill="#1a1a1a" font-family='"Liberation Serif","Noto Serif CJK SC",serif'>超声波车位探测器</text>
<text x="85.4" y="262" font-size="9.9" font-weight="bold" letter-spacing="-0.4" fill="#1a1a1a" font-family='"Liberation Serif","Noto Serif CJK SC",serif'>车位指示灯</text>
<line x1="330.10" y1="213.40" x2="330.10" y2="227.00" stroke="#3a3a3a" stroke-width="0.9"/>
<g transform="translate(0.00 0.00)">
<polygon points="291.70,227.50 294.50,226.80 370.40,226.50 370.10,293.70 296.90,299.60 291.70,297.00" fill="#0b1110"/>
<polygon points="294.60,226.80 370.40,226.50 370.10,292.60 296.00,298.20 294.60,297.40" fill="url(#sgnf)"/>
<polygon points="294.60,226.80 370.40,226.50 370.40,227.60 294.60,227.90" fill="#394842"/>
<polygon points="304.00,231.33 364.17,230.88 364.00,256.45 303.97,258.65" fill="#0c1613"/>
<polygon points="304.37,265.27 363.96,262.66 363.78,287.96 304.34,292.28" fill="url(#sgnl)"/>
<g transform="translate(336 240) skewY(-0.8) translate(-336 -240)">
<text transform="translate(312.9 245.6) scale(0.84 1)" font-size="15.4" font-weight="bold" letter-spacing="4" fill="#f4f6f4" stroke="#f4f6f4" stroke-width="0.2" font-family='"Liberation Sans","Noto Sans CJK SC",sans-serif'>空车位</text>
</g>
<g transform="translate(335 254) skewY(-1.6) translate(-335 -254)"><text x="307.3" y="257.2" font-size="11" font-weight="bold" fill="#f4f6f4" textLength="55.2" lengthAdjust="spacingAndGlyphs" font-family='"Liberation Serif",serif'>Available Lots</text></g>
<g filter="url(#glow)">
<polygon points="318.19,268.03 319.59,266.65 322.68,266.50 323.97,267.75 322.57,269.13 319.48,269.28" fill="#45e250"/><polygon points="324.26,268.03 325.54,269.27 325.22,276.74 323.82,278.13 322.53,276.89 322.86,269.41" fill="#45e250"/><polygon points="317.73,278.78 319.13,277.38 322.22,277.20 323.50,278.44 322.10,279.83 319.02,280.02" fill="#45e250"/><polygon points="317.42,279.09 318.71,280.33 318.38,287.85 316.99,289.27 315.70,288.04 316.02,280.49" fill="#45e250"/><polygon points="317.27,289.54 318.67,288.12 321.75,287.91 323.04,289.13 321.64,290.54 318.56,290.76" fill="#45e250"/>
<polygon points="328.20,267.55 329.61,266.19 332.70,266.04 333.98,267.28 332.58,268.64 329.49,268.79" fill="#45e250"/><polygon points="334.27,267.55 335.55,268.78 335.22,276.17 333.82,277.54 332.53,276.32 332.87,268.91" fill="#45e250"/><polygon points="327.89,267.86 329.18,269.10 328.85,276.53 327.45,277.91 326.16,276.69 326.49,269.23" fill="#45e250"/><polygon points="327.73,278.19 329.13,276.80 332.22,276.63 333.51,277.85 332.10,279.22 329.02,279.41" fill="#45e250"/><polygon points="333.79,278.12 335.08,279.33 334.74,286.72 333.34,288.11 332.06,286.91 332.39,279.50" fill="#45e250"/><polygon points="327.26,288.83 328.66,287.43 331.75,287.22 333.03,288.42 331.63,289.82 328.55,290.04" fill="#45e250"/>
<polygon points="337.90,267.38 339.19,268.60 338.85,275.96 337.45,277.33 336.16,276.11 336.50,268.74" fill="#45e250"/><polygon points="337.74,277.60 339.14,276.23 342.22,276.05 343.51,277.25 342.10,278.62 339.02,278.81" fill="#45e250"/><polygon points="344.28,267.08 345.56,268.29 345.22,275.59 343.82,276.95 342.54,275.75 342.88,268.42" fill="#45e250"/><polygon points="343.79,277.52 345.08,278.72 344.73,286.03 343.33,287.41 342.05,286.22 342.39,278.89" fill="#45e250"/>
<polygon points="344.96,275.99 361.19,275.05 361.17,277.65 344.95,278.64" fill="#45e250"/>
<polygon points="353.07,267.64 355.35,265.66 363.66,276.20 355.22,287.74 352.96,286.03 359.78,276.43" fill="#45e250"/>
</g>
</g>
<path d="M373.7 288.6 V295.6 M373.0 288.8 H374.4 M373.0 295.4 H374.4" stroke="#333" stroke-width="0.9" fill="none"/>
<line x1="330.10" y1="308.60" x2="330.10" y2="321.00" stroke="#3a3a3a" stroke-width="0.9"/>
<g transform="translate(-2.00 94.00)">
<polygon points="291.70,227.50 294.50,226.80 370.40,226.50 370.10,293.70 296.90,299.60 291.70,297.00" fill="#0b1110"/>
<polygon points="294.60,226.80 370.40,226.50 370.10,292.60 296.00,298.20 294.60,297.40" fill="url(#sgnf)"/>
<polygon points="294.60,226.80 370.40,226.50 370.40,227.60 294.60,227.90" fill="#394842"/>
<polygon points="304.00,231.33 364.17,230.88 364.00,256.45 303.97,258.65" fill="#0c1613"/>
<polygon points="304.37,265.27 363.96,262.66 363.78,287.96 304.34,292.28" fill="url(#sgnl)"/>
<g transform="translate(336 240) skewY(-0.8) translate(-336 -240)">
<text transform="translate(312.9 245.6) scale(0.84 1)" font-size="15.4" font-weight="bold" letter-spacing="4" fill="#f4f6f4" stroke="#f4f6f4" stroke-width="0.2" font-family='"Liberation Sans","Noto Sans CJK SC",sans-serif'>空车位</text>
</g>
<g transform="translate(335 254) skewY(-1.6) translate(-335 -254)"><text x="307.3" y="257.2" font-size="11" font-weight="bold" fill="#f4f6f4" textLength="55.2" lengthAdjust="spacingAndGlyphs" font-family='"Liberation Serif",serif'>Available Lots</text></g>
<g filter="url(#glow)">
<polygon points="318.19,268.03 319.59,266.65 322.68,266.50 323.97,267.75 322.57,269.13 319.48,269.28" fill="#45e250"/><polygon points="324.26,268.03 325.54,269.27 325.22,276.74 323.82,278.13 322.53,276.89 322.86,269.41" fill="#45e250"/><polygon points="317.73,278.78 319.13,277.38 322.22,277.20 323.50,278.44 322.10,279.83 319.02,280.02" fill="#45e250"/><polygon points="317.42,279.09 318.71,280.33 318.38,287.85 316.99,289.27 315.70,288.04 316.02,280.49" fill="#45e250"/><polygon points="317.27,289.54 318.67,288.12 321.75,287.91 323.04,289.13 321.64,290.54 318.56,290.76" fill="#45e250"/>
<polygon points="328.20,267.55 329.61,266.19 332.70,266.04 333.98,267.28 332.58,268.64 329.49,268.79" fill="#45e250"/><polygon points="334.27,267.55 335.55,268.78 335.22,276.17 333.82,277.54 332.53,276.32 332.87,268.91" fill="#45e250"/><polygon points="327.89,267.86 329.18,269.10 328.85,276.53 327.45,277.91 326.16,276.69 326.49,269.23" fill="#45e250"/><polygon points="327.73,278.19 329.13,276.80 332.22,276.63 333.51,277.85 332.10,279.22 329.02,279.41" fill="#45e250"/><polygon points="333.79,278.12 335.08,279.33 334.74,286.72 333.34,288.11 332.06,286.91 332.39,279.50" fill="#45e250"/><polygon points="327.26,288.83 328.66,287.43 331.75,287.22 333.03,288.42 331.63,289.82 328.55,290.04" fill="#45e250"/>
<polygon points="337.90,267.38 339.19,268.60 338.85,275.96 337.45,277.33 336.16,276.11 336.50,268.74" fill="#45e250"/><polygon points="337.74,277.60 339.14,276.23 342.22,276.05 343.51,277.25 342.10,278.62 339.02,278.81" fill="#45e250"/><polygon points="344.28,267.08 345.56,268.29 345.22,275.59 343.82,276.95 342.54,275.75 342.88,268.42" fill="#45e250"/><polygon points="343.79,277.52 345.08,278.72 344.73,286.03 343.33,287.41 342.05,286.22 342.39,278.89" fill="#45e250"/>
<polygon points="344.96,275.99 361.19,275.05 361.17,277.65 344.95,278.64" fill="#45e250"/>
<polygon points="353.07,267.64 355.35,265.66 363.66,276.20 355.22,287.74 352.96,286.03 359.78,276.43" fill="#45e250"/>
</g>
</g>
<line x1="330.10" y1="404.00" x2="330.10" y2="414.50" stroke="#3a3a3a" stroke-width="0.9"/>
<rect x="289.00" y="413.80" width="82.90" height="55.80" fill="#050505"/>
<text x="310.6" y="430" font-size="12" fill="#8fdcae" font-family='"Liberation Sans","Noto Sans CJK SC",sans-serif'>空车位</text>
<text x="301" y="441.5" font-size="9.6" fill="#8ce0aa" textLength="55" lengthAdjust="spacingAndGlyphs" font-family='"Liberation Mono",monospace'>Available lots</text>
<path d="M294.8 456.1 L306.4 444.4 V450.7 H319.4 V461.5 H306.4 V467.8Z" fill="#ff3418"/>
<text x="320.4" y="467" font-size="32" fill="#ff3418" textLength="46.8" lengthAdjust="spacingAndGlyphs" font-family='"Liberation Sans",sans-serif'>000</text>
<rect x="380.50" y="175.90" width="97.70" height="85.90" fill="none" stroke="#444" stroke-width="1.0" stroke-dasharray="1.0 1.15"/>
<g transform="translate(391.60 191.70) scale(1.0000 1.0000)">
<rect x="0" y="0" width="69" height="43.5" rx="1.0" fill="#e9e7d6"/>
<rect x="0" y="0" width="6.8" height="43.5" rx="1.0" fill="#dddbc8"/>
<rect x="62.2" y="0" width="6.8" height="43.5" rx="1.0" fill="#e3e1d0"/>
<rect x="6.6" y="0" width="0.9" height="43.5" fill="#c4c2b0"/>
<rect x="61.6" y="0" width="0.9" height="43.5" fill="#cfcdbc"/>
<rect x="0" y="41.8" width="69" height="1.7" fill="#cfcdbb"/>
<rect x="13.5" y="-1.90" width="44.2" height="6.60" fill="#121416"/>
<rect x="13.15" y="-1.90" width="0.7" height="5.40" fill="#8d8a78"/>
<rect x="18.67" y="-1.90" width="0.7" height="5.40" fill="#8d8a78"/>
<rect x="24.20" y="-1.90" width="0.7" height="5.40" fill="#8d8a78"/>
<rect x="29.73" y="-1.90" width="0.7" height="5.40" fill="#8d8a78"/>
<rect x="35.25" y="-1.90" width="0.7" height="5.40" fill="#8d8a78"/>
<rect x="40.77" y="-1.90" width="0.7" height="5.40" fill="#8d8a78"/>
<rect x="46.30" y="-1.90" width="0.7" height="5.40" fill="#8d8a78"/>
<rect x="51.83" y="-1.90" width="0.7" height="5.40" fill="#8d8a78"/>
<rect x="57.35" y="-1.90" width="0.7" height="5.40" fill="#8d8a78"/>
<rect x="15.26" y="1.30" width="2.0" height="1.5" fill="#7d7f7c"/>
<rect x="20.79" y="1.30" width="2.0" height="1.5" fill="#7d7f7c"/>
<rect x="26.31" y="1.30" width="2.0" height="1.5" fill="#7d7f7c"/>
<rect x="31.84" y="1.30" width="2.0" height="1.5" fill="#7d7f7c"/>
<rect x="37.36" y="1.30" width="2.0" height="1.5" fill="#7d7f7c"/>
<rect x="42.89" y="1.30" width="2.0" height="1.5" fill="#7d7f7c"/>
<rect x="48.41" y="1.30" width="2.0" height="1.5" fill="#7d7f7c"/>
<rect x="53.94" y="1.30" width="2.0" height="1.5" fill="#7d7f7c"/>
<rect x="13.5" y="40.80" width="44.2" height="5.80" fill="#121416"/>
<rect x="13.15" y="42.00" width="0.7" height="4.60" fill="#8d8a78"/>
<rect x="18.67" y="42.00" width="0.7" height="4.60" fill="#8d8a78"/>
<rect x="24.20" y="42.00" width="0.7" height="4.60" fill="#8d8a78"/>
<rect x="29.73" y="42.00" width="0.7" height="4.60" fill="#8d8a78"/>
<rect x="35.25" y="42.00" width="0.7" height="4.60" fill="#8d8a78"/>
<rect x="40.77" y="42.00" width="0.7" height="4.60" fill="#8d8a78"/>
<rect x="46.30" y="42.00" width="0.7" height="4.60" fill="#8d8a78"/>
<rect x="51.83" y="42.00" width="0.7" height="4.60" fill="#8d8a78"/>
<rect x="57.35" y="42.00" width="0.7" height="4.60" fill="#8d8a78"/>
<rect x="15.26" y="42.80" width="2.0" height="1.5" fill="#7d7f7c"/>
<rect x="20.79" y="42.80" width="2.0" height="1.5" fill="#7d7f7c"/>
<rect x="26.31" y="42.80" width="2.0" height="1.5" fill="#7d7f7c"/>
<rect x="31.84" y="42.80" width="2.0" height="1.5" fill="#7d7f7c"/>
<rect x="37.36" y="42.80" width="2.0" height="1.5" fill="#7d7f7c"/>
<rect x="42.89" y="42.80" width="2.0" height="1.5" fill="#7d7f7c"/>
<rect x="48.41" y="42.80" width="2.0" height="1.5" fill="#7d7f7c"/>
<rect x="53.94" y="42.80" width="2.0" height="1.5" fill="#7d7f7c"/>
<rect x="13.7" y="8.1" width="42.9" height="31.1" fill="url(#ctll)"/>
<rect x="13.7" y="8.1" width="42.9" height="1.1" fill="#5aa2ac"/>
<rect x="13.7" y="33.4" width="42.9" height="5.8" fill="#a6dde0"/>
<path d="M15 10.6 H55.6 M15 12.6 H55.6" stroke="#3c7a86" stroke-width="1.0" stroke-dasharray="2.6 1.3 1.2 0.9"/>
<path d="M15 35.0 H55.6 M15 37.6 H55.6" stroke="#3c7a86" stroke-width="1.1" stroke-dasharray="3.2 1.6 1.4 1.0"/>
<rect x="16.8" y="23.3" width="13.7" height="3.1" fill="#2a2624"/>
<rect x="18.2" y="24.1" width="7.5" height="1.5" fill="#b04048"/>
<path d="M18.9 16.4 V19.8 M18 16.6 H19.9 M28.3 16.4 V19.8 M27.4 16.6 H29.3" stroke="#2a6e58" stroke-width="0.9"/>
<path d="M38.6 21.3 H52.9 M35.6 25.4 H53.4" stroke="#47808c" stroke-width="1.3" stroke-dasharray="1.6 0.9"/>
<path d="M17.4 30.5 H29.8" stroke="#2f5664" stroke-width="2.2" stroke-dasharray="1.5 0.7"/>
<circle cx="9.30" cy="2.90" r="1.35" fill="#0e0e0e"/>
<circle cx="61.90" cy="2.90" r="1.35" fill="#0e0e0e"/>
<circle cx="9.30" cy="42.00" r="1.35" fill="#0e0e0e"/>
<circle cx="61.90" cy="41.60" r="1.35" fill="#0e0e0e"/>
<circle cx="3.40" cy="5.00" r="1.15" fill="#fdfdf8" stroke="#c8c6b4" stroke-width="0.4"/>
<circle cx="65.70" cy="5.00" r="1.15" fill="#fdfdf8" stroke="#c8c6b4" stroke-width="0.4"/>
<circle cx="3.40" cy="38.80" r="1.15" fill="#fdfdf8" stroke="#c8c6b4" stroke-width="0.4"/>
<circle cx="65.70" cy="38.80" r="1.15" fill="#fdfdf8" stroke="#c8c6b4" stroke-width="0.4"/>
</g>
<text x="393" y="259" font-size="12.6" font-weight="bold" fill="#262626" textLength="28.4" lengthAdjust="spacingAndGlyphs" font-family='"Liberation Serif",serif'>HY610</text>
<text x="422.9" y="259.1" font-size="10.1" font-weight="bold" letter-spacing="-0.3" fill="#1e1e1e" font-family='"Liberation Serif","Noto Serif CJK SC",serif'>控制器</text>
<rect x="380.50" y="274.60" width="98.40" height="85.00" fill="none" stroke="#444" stroke-width="1.0" stroke-dasharray="1.0 1.15"/>
<g transform="translate(394.50 290.00) scale(1.0000 0.9862)">
<rect x="0" y="0" width="69" height="43.5" rx="1.0" fill="#e9e7d6"/>
<rect x="0" y="0" width="6.8" height="43.5" rx="1.0" fill="#dddbc8"/>
<rect x="62.2" y="0" width="6.8" height="43.5" rx="1.0" fill="#e3e1d0"/>
<rect x="6.6" y="0" width="0.9" height="43.5" fill="#c4c2b0"/>
<rect x="61.6" y="0" width="0.9" height="43.5" fill="#cfcdbc"/>
<rect x="0" y="41.8" width="69" height="1.7" fill="#cfcdbb"/>
<rect x="13.5" y="-1.90" width="44.2" height="6.60" fill="#121416"/>
<rect x="13.15" y="-1.90" width="0.7" height="5.40" fill="#8d8a78"/>
<rect x="18.67" y="-1.90" width="0.7" height="5.40" fill="#8d8a78"/>
<rect x="24.20" y="-1.90" width="0.7" height="5.40" fill="#8d8a78"/>
<rect x="29.73" y="-1.90" width="0.7" height="5.40" fill="#8d8a78"/>
<rect x="35.25" y="-1.90" width="0.7" height="5.40" fill="#8d8a78"/>
<rect x="40.77" y="-1.90" width="0.7" height="5.40" fill="#8d8a78"/>
<rect x="46.30" y="-1.90" width="0.7" height="5.40" fill="#8d8a78"/>
<rect x="51.83" y="-1.90" width="0.7" height="5.40" fill="#8d8a78"/>
<rect x="57.35" y="-1.90" width="0.7" height="5.40" fill="#8d8a78"/>
<rect x="15.26" y="1.30" width="2.0" height="1.5" fill="#7d7f7c"/>
<rect x="20.79" y="1.30" width="2.0" height="1.5" fill="#7d7f7c"/>
<rect x="26.31" y="1.30" width="2.0" height="1.5" fill="#7d7f7c"/>
<rect x="31.84" y="1.30" width="2.0" height="1.5" fill="#7d7f7c"/>
<rect x="37.36" y="1.30" width="2.0" height="1.5" fill="#7d7f7c"/>
<rect x="42.89" y="1.30" width="2.0" height="1.5" fill="#7d7f7c"/>
<rect x="48.41" y="1.30" width="2.0" height="1.5" fill="#7d7f7c"/>
<rect x="53.94" y="1.30" width="2.0" height="1.5" fill="#7d7f7c"/>
<rect x="13.5" y="40.80" width="44.2" height="5.80" fill="#121416"/>
<rect x="13.15" y="42.00" width="0.7" height="4.60" fill="#8d8a78"/>
<rect x="18.67" y="42.00" width="0.7" height="4.60" fill="#8d8a78"/>
<rect x="24.20" y="42.00" width="0.7" height="4.60" fill="#8d8a78"/>
<rect x="29.73" y="42.00" width="0.7" height="4.60" fill="#8d8a78"/>
<rect x="35.25" y="42.00" width="0.7" height="4.60" fill="#8d8a78"/>
<rect x="40.77" y="42.00" width="0.7" height="4.60" fill="#8d8a78"/>
<rect x="46.30" y="42.00" width="0.7" height="4.60" fill="#8d8a78"/>
<rect x="51.83" y="42.00" width="0.7" height="4.60" fill="#8d8a78"/>
<rect x="57.35" y="42.00" width="0.7" height="4.60" fill="#8d8a78"/>
<rect x="15.26" y="42.80" width="2.0" height="1.5" fill="#7d7f7c"/>
<rect x="20.79" y="42.80" width="2.0" height="1.5" fill="#7d7f7c"/>
<rect x="26.31" y="42.80" width="2.0" height="1.5" fill="#7d7f7c"/>
<rect x="31.84" y="42.80" width="2.0" height="1.5" fill="#7d7f7c"/>
<rect x="37.36" y="42.80" width="2.0" height="1.5" fill="#7d7f7c"/>
<rect x="42.89" y="42.80" width="2.0" height="1.5" fill="#7d7f7c"/>
<rect x="48.41" y="42.80" width="2.0" height="1.5" fill="#7d7f7c"/>
<rect x="53.94" y="42.80" width="2.0" height="1.5" fill="#7d7f7c"/>
<rect x="13.7" y="8.1" width="42.9" height="31.1" fill="url(#ctll)"/>
<rect x="13.7" y="8.1" width="42.9" height="1.1" fill="#5aa2ac"/>
<rect x="13.7" y="33.4" width="42.9" height="5.8" fill="#a6dde0"/>
<path d="M15 10.6 H55.6 M15 12.6 H55.6" stroke="#3c7a86" stroke-width="1.0" stroke-dasharray="2.6 1.3 1.2 0.9"/>
<path d="M15 35.0 H55.6 M15 37.6 H55.6" stroke="#3c7a86" stroke-width="1.1" stroke-dasharray="3.2 1.6 1.4 1.0"/>
<rect x="16.8" y="23.3" width="13.7" height="3.1" fill="#2a2624"/>
<rect x="18.2" y="24.1" width="7.5" height="1.5" fill="#b04048"/>
<path d="M18.9 16.4 V19.8 M18 16.6 H19.9 M28.3 16.4 V19.8 M27.4 16.6 H29.3" stroke="#2a6e58" stroke-width="0.9"/>
<path d="M38.6 21.3 H52.9 M35.6 25.4 H53.4" stroke="#47808c" stroke-width="1.3" stroke-dasharray="1.6 0.9"/>
<path d="M17.4 30.5 H29.8" stroke="#2f5664" stroke-width="2.2" stroke-dasharray="1.5 0.7"/>
<circle cx="9.30" cy="2.90" r="1.35" fill="#0e0e0e"/>
<circle cx="61.90" cy="2.90" r="1.35" fill="#0e0e0e"/>
<circle cx="9.30" cy="42.00" r="1.35" fill="#0e0e0e"/>
<circle cx="61.90" cy="41.60" r="1.35" fill="#0e0e0e"/>
<circle cx="3.40" cy="5.00" r="1.15" fill="#fdfdf8" stroke="#c8c6b4" stroke-width="0.4"/>
<circle cx="65.70" cy="5.00" r="1.15" fill="#fdfdf8" stroke="#c8c6b4" stroke-width="0.4"/>
<circle cx="3.40" cy="38.80" r="1.15" fill="#fdfdf8" stroke="#c8c6b4" stroke-width="0.4"/>
<circle cx="65.70" cy="38.80" r="1.15" fill="#fdfdf8" stroke="#c8c6b4" stroke-width="0.4"/>
</g>
<text x="392.4" y="357.2" font-size="12.6" font-weight="bold" fill="#262626" textLength="28.4" lengthAdjust="spacingAndGlyphs" font-family='"Liberation Serif",serif'>HY610</text>
<text x="422.3" y="357.3" font-size="10.1" font-weight="bold" letter-spacing="-0.3" fill="#1e1e1e" font-family='"Liberation Serif","Noto Serif CJK SC",serif'>控制器</text>
<rect x="380.50" y="373.70" width="98.40" height="84.60" fill="none" stroke="#444" stroke-width="1.0" stroke-dasharray="1.0 1.15"/>
<g transform="translate(394.50 385.60) scale(1.0000 0.9862)">
<rect x="0" y="0" width="69" height="43.5" rx="1.0" fill="#e9e7d6"/>
<rect x="0" y="0" width="6.8" height="43.5" rx="1.0" fill="#dddbc8"/>
<rect x="62.2" y="0" width="6.8" height="43.5" rx="1.0" fill="#e3e1d0"/>
<rect x="6.6" y="0" width="0.9" height="43.5" fill="#c4c2b0"/>
<rect x="61.6" y="0" width="0.9" height="43.5" fill="#cfcdbc"/>
<rect x="0" y="41.8" width="69" height="1.7" fill="#cfcdbb"/>
<rect x="13.5" y="-1.90" width="44.2" height="6.60" fill="#121416"/>
<rect x="13.15" y="-1.90" width="0.7" height="5.40" fill="#8d8a78"/>
<rect x="18.67" y="-1.90" width="0.7" height="5.40" fill="#8d8a78"/>
<rect x="24.20" y="-1.90" width="0.7" height="5.40" fill="#8d8a78"/>
<rect x="29.73" y="-1.90" width="0.7" height="5.40" fill="#8d8a78"/>
<rect x="35.25" y="-1.90" width="0.7" height="5.40" fill="#8d8a78"/>
<rect x="40.77" y="-1.90" width="0.7" height="5.40" fill="#8d8a78"/>
<rect x="46.30" y="-1.90" width="0.7" height="5.40" fill="#8d8a78"/>
<rect x="51.83" y="-1.90" width="0.7" height="5.40" fill="#8d8a78"/>
<rect x="57.35" y="-1.90" width="0.7" height="5.40" fill="#8d8a78"/>
<rect x="15.26" y="1.30" width="2.0" height="1.5" fill="#7d7f7c"/>
<rect x="20.79" y="1.30" width="2.0" height="1.5" fill="#7d7f7c"/>
<rect x="26.31" y="1.30" width="2.0" height="1.5" fill="#7d7f7c"/>
<rect x="31.84" y="1.30" width="2.0" height="1.5" fill="#7d7f7c"/>
<rect x="37.36" y="1.30" width="2.0" height="1.5" fill="#7d7f7c"/>
<rect x="42.89" y="1.30" width="2.0" height="1.5" fill="#7d7f7c"/>
<rect x="48.41" y="1.30" width="2.0" height="1.5" fill="#7d7f7c"/>
<rect x="53.94" y="1.30" width="2.0" height="1.5" fill="#7d7f7c"/>
<rect x="13.5" y="40.80" width="44.2" height="5.80" fill="#121416"/>
<rect x="13.15" y="42.00" width="0.7" height="4.60" fill="#8d8a78"/>
<rect x="18.67" y="42.00" width="0.7" height="4.60" fill="#8d8a78"/>
<rect x="24.20" y="42.00" width="0.7" height="4.60" fill="#8d8a78"/>
<rect x="29.73" y="42.00" width="0.7" height="4.60" fill="#8d8a78"/>
<rect x="35.25" y="42.00" width="0.7" height="4.60" fill="#8d8a78"/>
<rect x="40.77" y="42.00" width="0.7" height="4.60" fill="#8d8a78"/>
<rect x="46.30" y="42.00" width="0.7" height="4.60" fill="#8d8a78"/>
<rect x="51.83" y="42.00" width="0.7" height="4.60" fill="#8d8a78"/>
<rect x="57.35" y="42.00" width="0.7" height="4.60" fill="#8d8a78"/>
<rect x="15.26" y="42.80" width="2.0" height="1.5" fill="#7d7f7c"/>
<rect x="20.79" y="42.80" width="2.0" height="1.5" fill="#7d7f7c"/>
<rect x="26.31" y="42.80" width="2.0" height="1.5" fill="#7d7f7c"/>
<rect x="31.84" y="42.80" width="2.0" height="1.5" fill="#7d7f7c"/>
<rect x="37.36" y="42.80" width="2.0" height="1.5" fill="#7d7f7c"/>
<rect x="42.89" y="42.80" width="2.0" height="1.5" fill="#7d7f7c"/>
<rect x="48.41" y="42.80" width="2.0" height="1.5" fill="#7d7f7c"/>
<rect x="53.94" y="42.80" width="2.0" height="1.5" fill="#7d7f7c"/>
<rect x="13.7" y="8.1" width="42.9" height="31.1" fill="url(#ctll)"/>
<rect x="13.7" y="8.1" width="42.9" height="1.1" fill="#5aa2ac"/>
<rect x="13.7" y="33.4" width="42.9" height="5.8" fill="#a6dde0"/>
<path d="M15 10.6 H55.6 M15 12.6 H55.6" stroke="#3c7a86" stroke-width="1.0" stroke-dasharray="2.6 1.3 1.2 0.9"/>
<path d="M15 35.0 H55.6 M15 37.6 H55.6" stroke="#3c7a86" stroke-width="1.1" stroke-dasharray="3.2 1.6 1.4 1.0"/>
<rect x="16.8" y="23.3" width="13.7" height="3.1" fill="#2a2624"/>
<rect x="18.2" y="24.1" width="7.5" height="1.5" fill="#b04048"/>
<path d="M18.9 16.4 V19.8 M18 16.6 H19.9 M28.3 16.4 V19.8 M27.4 16.6 H29.3" stroke="#2a6e58" stroke-width="0.9"/>
<path d="M38.6 21.3 H52.9 M35.6 25.4 H53.4" stroke="#47808c" stroke-width="1.3" stroke-dasharray="1.6 0.9"/>
<path d="M17.4 30.5 H29.8" stroke="#2f5664" stroke-width="2.2" stroke-dasharray="1.5 0.7"/>
<circle cx="9.30" cy="2.90" r="1.35" fill="#0e0e0e"/>
<circle cx="61.90" cy="2.90" r="1.35" fill="#0e0e0e"/>
<circle cx="9.30" cy="42.00" r="1.35" fill="#0e0e0e"/>
<circle cx="61.90" cy="41.60" r="1.35" fill="#0e0e0e"/>
<circle cx="3.40" cy="5.00" r="1.15" fill="#fdfdf8" stroke="#c8c6b4" stroke-width="0.4"/>
<circle cx="65.70" cy="5.00" r="1.15" fill="#fdfdf8" stroke="#c8c6b4" stroke-width="0.4"/>
<circle cx="3.40" cy="38.80" r="1.15" fill="#fdfdf8" stroke="#c8c6b4" stroke-width="0.4"/>
<circle cx="65.70" cy="38.80" r="1.15" fill="#fdfdf8" stroke="#c8c6b4" stroke-width="0.4"/>
</g>
<text x="392.6" y="454" font-size="12.6" font-weight="bold" fill="#262626" textLength="28.4" lengthAdjust="spacingAndGlyphs" font-family='"Liberation Serif",serif'>HY610</text>
<text x="422.5" y="454.1" font-size="10.1" font-weight="bold" letter-spacing="-0.3" fill="#1e1e1e" font-family='"Liberation Serif","Noto Serif CJK SC",serif'>控制器</text>
<path d="M478 212 H499.2 V404 H479" fill="none" stroke="#2a2a2a" stroke-width="1.1"/>
<path d="M479 309.6 H499.2" fill="none" stroke="#2a2a2a" stroke-width="1.1"/>
<path d="M499.2 221.2 H534" fill="none" stroke="#2a2a2a" stroke-width="1.1"/>
<rect x="534.10" y="175.20" width="99.20" height="93.00" fill="none" stroke="#444" stroke-width="1.0" stroke-dasharray="1.0 1.15"/>
<polygon points="557.20,187.80 606.70,188.80 622.90,229.50 542.80,229.10" fill="url(#ccg)"/>
<polygon points="542.90,229.20 622.80,229.30 622.40,235.60 543.80,237.20" fill="#202b3c"/>
<polygon points="543.00,228.80 622.90,229.20 622.90,230.20 543.00,229.80" fill="#65718a"/>
<rect x="548.00" y="232.60" width="1.60" height="1.60" fill="#777"/>
<rect x="558.00" y="232.30" width="1.60" height="1.60" fill="#777"/>
<rect x="570.50" y="231.60" width="4.00" height="2.60" fill="#0a0c10"/>
<rect x="584.50" y="231.40" width="4.00" height="2.60" fill="#0a0c10"/>
<polygon points="587.60,221.20 591.60,224.80 587.60,228.20 583.60,224.80" fill="#d2b840"/>
<polygon points="587.60,223.20 589.40,224.80 587.60,226.30 585.80,224.80" fill="#4a4f5c"/>
<text x="593" y="227.2" font-size="5.6" fill="#b04050" textLength="14.6" lengthAdjust="spacingAndGlyphs" font-family='"Liberation Serif",serif'>CYAN</text>
<circle cx="560" cy="247.4" r="0.5" fill="#666"/>
<text x="556" y="264.9" font-size="9.9" font-weight="bold" fill="#1a1a1a" font-family='"Liberation Serif","Noto Serif CJK SC",serif'>中央控制器</text>
<line x1="587.10" y1="268.20" x2="587.10" y2="328.00" stroke="#2a2a2a" stroke-width="1.3"/>
<rect x="534.00" y="326.60" width="104.60" height="137.60" fill="none" stroke="#444" stroke-width="1.0" stroke-dasharray="1.0 1.15"/>
<g clip-path="url(#photoclip)">
<rect x="538.20" y="352.70" width="94.70" height="83.50" fill="#3c5a28"/>
<g filter="url(#blur2)">
<rect x="536.00" y="350.00" width="30.00" height="16.00" fill="#1d2f16"/>
<rect x="560.00" y="350.00" width="50.00" height="12.00" fill="#2c4a1c"/>
<ellipse cx="580" cy="354" rx="9" ry="3.5" fill="#7ea04e"/>
<ellipse cx="600" cy="356" rx="6" ry="4" fill="#1a2612"/>
<rect x="607.00" y="352.00" width="16.00" height="14.00" fill="#5f8636"/>
<ellipse cx="612" cy="358" rx="3" ry="3" fill="#dfe8c8"/>
<ellipse cx="618" cy="363" rx="3" ry="2.4" fill="#20301a"/>
<rect x="629.00" y="350.00" width="6.00" height="90.00" fill="#b9c6a4"/>
<rect x="630.50" y="352.00" width="3.00" height="40.00" fill="#f4f6ee"/>
<ellipse cx="631" cy="408" rx="3" ry="10" fill="#4c6a30"/>
<rect x="607.00" y="368.00" width="16.00" height="28.00" fill="#55782f"/>
<ellipse cx="614" cy="380" rx="5" ry="6" fill="#86a850"/>
<ellipse cx="610" cy="390" rx="3" ry="3" fill="#e4ecd0"/>
<rect x="607.00" y="398.00" width="16.00" height="28.00" fill="#33502a"/>
<ellipse cx="615" cy="410" rx="5" ry="7" fill="#4a6c34"/>
<rect x="538.00" y="356.00" width="8.00" height="72.00" fill="#2a4220"/>
<ellipse cx="541" cy="372" rx="2.2" ry="5" fill="#a8bf86"/>
<ellipse cx="541.5" cy="398" rx="2" ry="6" fill="#8aa66a"/>
<ellipse cx="541" cy="416" rx="2.4" ry="4" fill="#1a2a14"/>
<rect x="538.00" y="427.00" width="96.00" height="10.00" fill="#2f4a24"/>
<rect x="538.00" y="432.40" width="96.00" height="5.00" fill="#7d8d6c"/>
<rect x="606.00" y="430.00" width="18.00" height="6.00" fill="#6a7c58"/>
</g>
<rect x="538.2" y="352.7" width="94.7" height="83.5" filter="url(#foliage)" opacity="0.85"/>
<rect x="538.2" y="352.7" width="94.7" height="83.5" filter="url(#foliage2)" opacity="0.8"/>
<rect x="607.00" y="366.10" width="16.00" height="2.50" fill="#b4bcbc"/>
<rect x="607.00" y="394.90" width="16.00" height="2.90" fill="#aab2b2"/>
<rect x="607.00" y="425.20" width="16.00" height="2.90" fill="#a2aaaa"/>
<rect x="621.30" y="354.00" width="7.80" height="83.00" fill="url(#poleg)"/>
<polygon points="547.00,361.00 607.50,362.30 607.50,428.20 543.20,425.30" fill="url(#bsg)"/>
<path d="M555.2 376.2 V369.0 Q555.2 365.8 552.0 365.8 H551.4" fill="none" stroke="#d4e4f6" stroke-width="1.4"/>
<path d="M548.8 365.8 L552.0 363.2 V368.4Z" fill="#d4e4f6"/>
<path d="M548.6 394.4 V387.4 Q548.6 384.2 551.8 384.2 H552.8" fill="none" stroke="#d4e4f6" stroke-width="1.4"/>
<path d="M555.6 384.2 L552.4 381.6 V386.8Z" fill="#d4e4f6"/>
<text x="557.3" y="373.4" font-size="5.7" font-weight="bold" fill="#e8f0fb" textLength="33.3" lengthAdjust="spacingAndGlyphs" font-family='"Liberation Sans","Noto Sans CJK SC",sans-serif'>地面剩余车位</text>
<text x="557.3" y="391.5" font-size="5.7" font-weight="bold" fill="#e8f0fb" textLength="33.3" lengthAdjust="spacingAndGlyphs" font-family='"Liberation Sans","Noto Sans CJK SC",sans-serif'>地库剩余车位</text>
<rect x="590.80" y="366.40" width="13.00" height="9.00" fill="#1d6a4c"/>
<rect x="590.80" y="384.20" width="13.00" height="9.20" fill="#1d6a4c"/>
<g filter="url(#glow)">
<text x="591.2" y="374.3" font-size="8.6" font-weight="bold" fill="#9dffb4" textLength="12.2" lengthAdjust="spacingAndGlyphs" font-family='"Liberation Sans",sans-serif'>0066</text>
<text x="591.2" y="392.3" font-size="8.6" font-weight="bold" fill="#9dffb4" textLength="12.2" lengthAdjust="spacingAndGlyphs" font-family='"Liberation Sans",sans-serif'>0043</text>
</g>
<rect x="549.60" y="401.20" width="51.80" height="22.00" fill="#4a1c2c"/>
<g filter="url(#glow)">
<text transform="translate(550.4 410.8) scale(0.74 1)" font-size="8.6" font-weight="bold" fill="#ff5a48" stroke="#ff2a1c" stroke-width="0.45" font-family='"Liberation Sans","Noto Sans CJK SC",sans-serif'>罗氏制药有限公司</text>
<text transform="translate(550.4 421.4) scale(0.74 1)" font-size="8.6" font-weight="bold" fill="#ff5a48" stroke="#ff2a1c" stroke-width="0.45" font-family='"Liberation Sans","Noto Sans CJK SC",sans-serif'>车位统计系统演示</text>
</g>
<text transform="translate(550.4 410.8) scale(0.74 1)" font-size="8.6" fill="#ffd8cc" opacity="0.55" font-family='"Liberation Sans","Noto Sans CJK SC",sans-serif'>罗氏制药有限公司</text>
<text transform="translate(550.4 421.4) scale(0.74 1)" font-size="8.6" fill="#ffd8cc" opacity="0.55" font-family='"Liberation Sans","Noto Sans CJK SC",sans-serif'>车位统计系统演示</text>
</g>
<text x="542.4" y="474" font-size="10" font-weight="bold" letter-spacing="-0.4" fill="#1a1a1a" font-family='"Liberation Serif","Noto Serif CJK SC",serif'>户外</text>
<text x="561.6" y="473.8" font-size="10.6" font-weight="bold" fill="#1a1a1a" textLength="15.4" lengthAdjust="spacingAndGlyphs" font-family='"Liberation Serif",serif'>LED</text>
<text x="577.4" y="474" font-size="10" font-weight="bold" letter-spacing="-0.28" fill="#1a1a1a" font-family='"Liberation Serif","Noto Serif CJK SC",serif'>车位显示屏</text>
<rect x="574.60" y="18.80" width="35.00" height="92.20" rx="1.6" fill="#2b2b2b"/>
<rect x="574.60" y="30.00" width="35.00" height="81.00" fill="url(#mesh)"/>
<rect x="606.60" y="31.00" width="3.00" height="79.40" fill="url(#tedge)"/>
<rect x="574.60" y="18.80" width="35.00" height="9.60" rx="1.6" fill="url(#capg)"/>
<rect x="574.60" y="28.00" width="35.00" height="3.60" fill="#f3f3f3"/>
<rect x="574.60" y="31.40" width="35.00" height="0.80" fill="#6e6e6e"/>
<rect x="591.20" y="44.80" width="8.60" height="25.80" rx="1.6" fill="#4a4a4a"/>
<rect x="592.00" y="45.60" width="7.00" height="24.20" rx="1.2" fill="url(#hndl)"/>
<rect x="574.60" y="108.60" width="35.00" height="2.40" rx="1" fill="#9a9a9a"/>
<ellipse cx="592" cy="111.6" rx="19" ry="1.6" fill="#c8c8c8" opacity="0.7"/>
<rect x="544.80" y="77.00" width="46.50" height="35.80" rx="1.4" fill="url(#bezg)" stroke="#d4d4d4" stroke-width="0.5"/>
<rect x="545.60" y="78.00" width="44.80" height="28.30" rx="0.6" fill="#2a3238"/>
<rect x="546.20" y="78.80" width="43.80" height="26.60" fill="url(#scrL)"/>
<polygon points="564.60,78.80 590.00,78.80 590.00,105.40 570.80,105.40" fill="url(#scrR)"/>
<path d="M548.0 81.6 L552.0 84.2 L548.0 86.8" fill="none" stroke="#fff" stroke-width="1.1"/>
<line x1="552.80" y1="87.80" x2="557.00" y2="87.80" stroke="#fff" stroke-width="1.2"/>
<circle cx="588.1" cy="109.8" r="1.7" fill="#d4e02c" stroke="#9aa61c" stroke-width="0.4"/>
<rect x="563.40" y="112.80" width="9.60" height="3.00" fill="#e4e4e4"/>
<rect x="563.80" y="114.00" width="8.80" height="0.90" fill="#bdbdbd"/>
<rect x="559.60" y="118.60" width="17.20" height="1.40" rx="0.7" fill="#8a8a8a"/>
<text transform="translate(519.2 135) scale(0.92 1)" font-size="10.9" font-weight="bold" letter-spacing="-0.2" fill="#1a1a1a" font-family='"Liberation Serif","Noto Serif CJK SC",serif'>服务器</text>
<path d="M586.9 126 q1.4 1 0 2 q-1.4 1 0 2 q1.4 1 0 2 q-1.4 1 0 2 q1.4 1 0 2 q-1.4 1 0 2 q1.4 1 0 2 q-1.4 1 0 2 q1.4 1 0 2 q-1.4 1 0 2 q1.4 1 0 2 q-1.4 1 0 2 q1.4 1 0 2 q-1.4 1 0 2 q1.4 1 0 2 q-1.4 1 0 2 q1.4 1 0 2 q-1.4 1 0 2 q1.4 1 0 2 q-1.4 1 0 2 q1.4 1 0 2 q-1.4 1 0 2 q1.4 1 0 2 q-1.4 1 0 2" fill="none" stroke="#4a4a4a" stroke-width="0.8"/>
<line x1="407.00" y1="88.00" x2="503.60" y2="88.00" stroke="#9a9a9a" stroke-width="1.2" stroke-dasharray="0.75 0.6"/>
<path d="M406.4 85.8 L402.0 88.0 L406.4 90.2 M404.2 86.6 V89.4" fill="none" stroke="#8a8a8a" stroke-width="0.7"/>
<text transform="translate(270 44.8) scale(0.8 1)" font-size="13" fill="#1c1c1c" font-family='"Liberation Sans","Noto Sans CJK SC",sans-serif'>誉澄智能科技车位引导系统</text>
<g clip-path="url(#backclip)">
<rect x="270.00" y="48.40" width="16.00" height="66.00" fill="url(#backg)"/>
<g filter="url(#blur05)">
<path d="M269 60.5 Q277 57 287 58.5 V66 H269Z" fill="#4a5256"/>
<path d="M269 63 Q275 61 281 62 L284 66 H269Z" fill="#2e3438"/>
<path d="M269 66.5 Q277 64 287 66 V85 H269Z" fill="#a2aaae"/>
<path d="M269 69 Q274 68 278 71 L277.4 75 H269Z" fill="#dde1e4"/>
<path d="M269 76 H276 V79 H269Z" fill="#6a7276"/>
<ellipse cx="281.4" cy="79.8" rx="3.3" ry="5.6" fill="#1e2125"/>
<ellipse cx="281.8" cy="79.8" rx="1.3" ry="2.6" fill="#6e757b"/>
<path d="M269 85 H287 V90 H269Z" fill="#6c767a"/>
</g></g>
<rect x="284.30" y="48.40" width="110.00" height="79.20" fill="#ffffff"/>
<rect x="284.30" y="48.40" width="110.00" height="4.60" fill="url(#topbar)"/>
<rect x="284.30" y="52.80" width="110.00" height="0.90" fill="#2a7486"/>
<rect x="383.00" y="49.60" width="10.20" height="2.60" fill="#1d4150"/>
<rect x="284.30" y="53.60" width="21.20" height="72.00" fill="#d3ebf1"/>
<rect x="305.00" y="53.60" width="2.20" height="72.00" fill="#3b8294"/>
<rect x="284.30" y="125.40" width="110.00" height="2.20" fill="#9cc6d2"/>
<rect x="285.40" y="54.60" width="18.80" height="4.90" fill="#f2f8fa"/>
<ellipse cx="287.6" cy="57.0" rx="1.6" ry="1.6" fill="#2a4a8a"/>
<rect x="289.80" y="56.00" width="12.60" height="1.90" fill="#2c4e86"/>
<rect x="284.80" y="60.80" width="19.80" height="3.70" fill="url(#selg)"/>
<rect x="286.60" y="62.00" width="6.60" height="1.30" fill="#dfeef4"/>
<path d="M301.2 62 L302.8 62 L302 63.2Z" fill="#fff"/>
<rect x="285.30" y="64.90" width="18.80" height="3.30" fill="#f4fafc"/>
<rect x="287.10" y="65.90" width="6.20" height="1.40" fill="#27384a"/>
<rect x="285.30" y="69.17" width="18.80" height="3.30" fill="#f4fafc"/>
<rect x="287.10" y="70.17" width="5.40" height="1.40" fill="#27384a"/>
<rect x="285.30" y="73.44" width="18.80" height="3.30" fill="#f4fafc"/>
<rect x="287.10" y="74.44" width="6.80" height="1.40" fill="#27384a"/>
<rect x="285.30" y="77.71" width="18.80" height="3.30" fill="#f4fafc"/>
<rect x="287.10" y="78.71" width="7.20" height="1.40" fill="#27384a"/>
<rect x="285.30" y="81.98" width="18.80" height="3.30" fill="#f4fafc"/>
<rect x="287.10" y="82.98" width="6.60" height="1.40" fill="#27384a"/>
<rect x="285.30" y="86.25" width="18.80" height="3.30" fill="#f4fafc"/>
<rect x="287.10" y="87.25" width="6.60" height="1.40" fill="#27384a"/>
<rect x="285.30" y="90.52" width="18.80" height="3.30" fill="#f4fafc"/>
<rect x="287.10" y="91.52" width="3.60" height="1.40" fill="#27384a"/>
<rect x="285.30" y="94.79" width="18.80" height="3.30" fill="#f4fafc"/>
<rect x="287.10" y="95.79" width="3.00" height="1.40" fill="#27384a"/>
<rect x="285.30" y="99.06" width="18.80" height="3.30" fill="#f4fafc"/>
<rect x="287.10" y="100.06" width="6.00" height="1.40" fill="#27384a"/>
<rect x="285.30" y="103.33" width="18.80" height="3.30" fill="#f4fafc"/>
<rect x="287.10" y="104.33" width="3.60" height="1.40" fill="#27384a"/>
<rect x="311.00" y="57.70" width="26.10" height="14.90" fill="none" stroke="#e6d2d2" stroke-width="0.5"/>
<rect x="338.20" y="57.70" width="31.00" height="14.90" fill="none" stroke="#e6d2d2" stroke-width="0.5"/>
<rect x="312.90" y="62.00" width="5.00" height="1.40" fill="#2b3038"/>
<rect x="320.30" y="61.10" width="14.30" height="3.00" fill="#fff" stroke="#b8c8d2" stroke-width="0.4"/>
<rect x="321.20" y="62.00" width="4.60" height="1.20" fill="#4a5a6a"/>
<rect x="332.80" y="61.80" width="1.00" height="1.80" fill="#5a7aa8"/>
<rect x="315.00" y="65.90" width="2.90" height="1.40" fill="#2b3038"/>
<rect x="320.30" y="65.00" width="14.30" height="3.00" fill="#fff" stroke="#b8c8d2" stroke-width="0.4"/>
<rect x="321.20" y="65.90" width="4.60" height="1.20" fill="#4a5a6a"/>
<rect x="332.80" y="65.70" width="1.00" height="1.80" fill="#5a7aa8"/>
<rect x="340.00" y="62.00" width="5.20" height="1.40" fill="#2b3038"/>
<rect x="346.60" y="61.10" width="18.40" height="3.00" fill="#fff" stroke="#b8c8d2" stroke-width="0.4"/>
<rect x="347.50" y="62.00" width="7.80" height="1.20" fill="#4a5a6a"/>
<rect x="363.20" y="61.80" width="1.00" height="1.80" fill="#5a7aa8"/>
<rect x="340.00" y="65.90" width="5.20" height="1.40" fill="#2b3038"/>
<rect x="346.60" y="65.00" width="18.40" height="3.00" fill="#fff" stroke="#b8c8d2" stroke-width="0.4"/>
<rect x="347.50" y="65.90" width="7.80" height="1.20" fill="#4a5a6a"/>
<rect x="363.20" y="65.70" width="1.00" height="1.80" fill="#5a7aa8"/>
<rect x="372.80" y="58.40" width="12.00" height="3.00" fill="#f5f6f7" stroke="#8a8f98" stroke-width="0.5"/>
<rect x="376.60" y="59.30" width="4.60" height="1.20" fill="#2a2f3a"/>
<rect x="372.80" y="63.50" width="12.00" height="3.00" fill="#f5f6f7" stroke="#8a8f98" stroke-width="0.5"/>
<rect x="376.60" y="64.40" width="4.60" height="1.20" fill="#2a2f3a"/>
<rect x="372.80" y="68.60" width="12.00" height="3.00" fill="#f5f6f7" stroke="#8a8f98" stroke-width="0.5"/>
<rect x="376.60" y="69.50" width="4.60" height="1.20" fill="#2a2f3a"/>
<rect x="372.80" y="58.40" width="12.00" height="3.00" fill="none" stroke="#d08a8a" stroke-width="0.5"/>
<rect x="310.40" y="75.40" width="80.00" height="3.90" fill="#d2e6f2"/>
<line x1="310.40" y1="79.30" x2="390.40" y2="79.30" stroke="#cfe0ea" stroke-width="0.5"/>
<rect x="317.60" y="80.50" width="7.20" height="1.10" fill="#66788a"/>
<rect x="339.60" y="80.50" width="1.80" height="1.10" fill="#66788a"/>
<rect x="359.60" y="80.50" width="1.00" height="1.10" fill="#66788a"/>
<rect x="377.60" y="80.50" width="4.00" height="1.10" fill="#66788a"/>
<line x1="310.40" y1="82.76" x2="390.40" y2="82.76" stroke="#cfe0ea" stroke-width="0.5"/>
<rect x="317.60" y="83.96" width="7.20" height="1.10" fill="#66788a"/>
<rect x="339.60" y="83.96" width="1.80" height="1.10" fill="#66788a"/>
<rect x="359.60" y="83.96" width="1.00" height="1.10" fill="#66788a"/>
<rect x="377.60" y="83.96" width="4.00" height="1.10" fill="#66788a"/>
<line x1="310.40" y1="86.22" x2="390.40" y2="86.22" stroke="#cfe0ea" stroke-width="0.5"/>
<rect x="317.60" y="87.42" width="7.20" height="1.10" fill="#66788a"/>
<rect x="339.60" y="87.42" width="1.80" height="1.10" fill="#66788a"/>
<rect x="359.60" y="87.42" width="1.00" height="1.10" fill="#66788a"/>
<rect x="377.60" y="87.42" width="4.00" height="1.10" fill="#66788a"/>
<line x1="310.40" y1="89.68" x2="390.40" y2="89.68" stroke="#cfe0ea" stroke-width="0.5"/>
<rect x="317.60" y="90.88" width="7.20" height="1.10" fill="#66788a"/>
<rect x="339.60" y="90.88" width="1.80" height="1.10" fill="#66788a"/>
<rect x="359.60" y="90.88" width="1.00" height="1.10" fill="#66788a"/>
<rect x="377.60" y="90.88" width="4.00" height="1.10" fill="#66788a"/>
<line x1="310.40" y1="93.14" x2="390.40" y2="93.14" stroke="#cfe0ea" stroke-width="0.5"/>
<rect x="317.60" y="94.34" width="7.20" height="1.10" fill="#66788a"/>
<rect x="339.60" y="94.34" width="1.80" height="1.10" fill="#66788a"/>
<rect x="359.60" y="94.34" width="1.00" height="1.10" fill="#66788a"/>
<rect x="377.60" y="94.34" width="4.00" height="1.10" fill="#66788a"/>
<line x1="310.40" y1="96.60" x2="390.40" y2="96.60" stroke="#cfe0ea" stroke-width="0.5"/>
<line x1="310.40" y1="75.40" x2="310.40" y2="96.60" stroke="#cfe0ea" stroke-width="0.5"/>
<line x1="330.40" y1="75.40" x2="330.40" y2="96.60" stroke="#cfe0ea" stroke-width="0.5"/>
<line x1="350.40" y1="75.40" x2="350.40" y2="96.60" stroke="#cfe0ea" stroke-width="0.5"/>
<line x1="370.40" y1="75.40" x2="370.40" y2="96.60" stroke="#cfe0ea" stroke-width="0.5"/>
<line x1="390.40" y1="75.40" x2="390.40" y2="96.60" stroke="#cfe0ea" stroke-width="0.5"/>
<rect x="318.60" y="76.70" width="4.00" height="1.40" fill="#24405a"/>
<rect x="337.00" y="76.70" width="7.00" height="1.40" fill="#24405a"/>
<rect x="357.80" y="76.70" width="5.00" height="1.40" fill="#24405a"/>
<rect x="376.60" y="76.70" width="7.40" height="1.40" fill="#24405a"/>
<rect x="324.60" y="98.00" width="8.00" height="1.30" fill="#445"/>
<rect x="334.40" y="97.60" width="5.60" height="2.20" fill="#fff" stroke="#889" stroke-width="0.4"/>
<rect x="342.00" y="97.60" width="5.60" height="2.20" fill="#fff" stroke="#889" stroke-width="0.4"/>
<rect x="349.00" y="98.00" width="2.60" height="1.30" fill="#445"/>
<rect x="373.00" y="98.00" width="6.00" height="1.30" fill="#445"/>
<rect x="379.80" y="97.60" width="3.00" height="2.20" fill="#fff" stroke="#889" stroke-width="0.4"/>
<rect x="385.00" y="97.60" width="3.60" height="2.20" fill="#fff" stroke="#889" stroke-width="0.4"/>
</g>
</svg>
</body></html>
